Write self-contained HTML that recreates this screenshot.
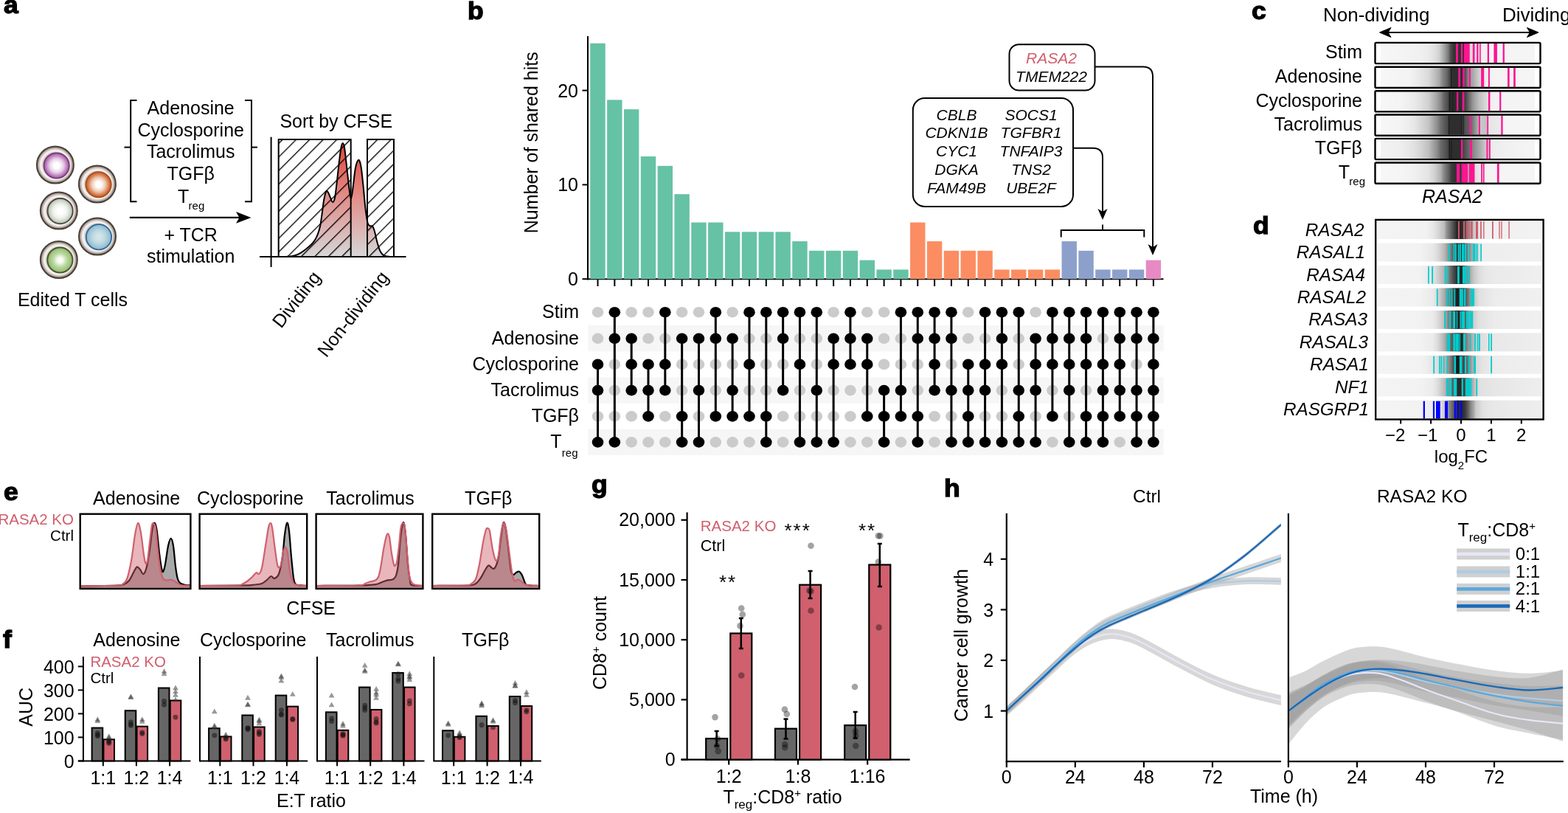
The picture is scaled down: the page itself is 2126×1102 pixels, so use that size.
<!DOCTYPE html>
<html><head><meta charset="utf-8"><title>Figure</title>
<style>
html,body{margin:0;padding:0;background:#fff;}
svg{display:block;}
text{font-family:'Liberation Sans', Arial, Helvetica, sans-serif;}
</style></head><body>
<svg width="2126" height="1102" viewBox="0 0 2126 1102" font-family="Liberation Sans, Arial, sans-serif" font-size="25">
<defs>
<radialGradient id="co0" cx="0.5" cy="0.5" r="0.5"><stop offset="0" stop-color="#ffffff"/><stop offset="0.68" stop-color="#cfc6c2"/><stop offset="0.73" stop-color="#eeeae8"/><stop offset="0.79" stop-color="#f6f4f3"/><stop offset="0.86" stop-color="#d8d0cc"/><stop offset="0.93" stop-color="#a89c96"/><stop offset="1" stop-color="#786c66"/></radialGradient>
<radialGradient id="ci0" cx="0.5" cy="0.5" r="0.5"><stop offset="0" stop-color="#ffffff"/><stop offset="0.22" stop-color="#ffffff"/><stop offset="0.55" stop-color="#e8d0e8"/><stop offset="0.85" stop-color="#b878b8"/><stop offset="1" stop-color="#9a529a"/></radialGradient>
<radialGradient id="co1" cx="0.5" cy="0.5" r="0.5"><stop offset="0" stop-color="#ffffff"/><stop offset="0.68" stop-color="#cfc6c2"/><stop offset="0.73" stop-color="#eeeae8"/><stop offset="0.79" stop-color="#f6f4f3"/><stop offset="0.86" stop-color="#d8d0cc"/><stop offset="0.93" stop-color="#a89c96"/><stop offset="1" stop-color="#786c66"/></radialGradient>
<radialGradient id="ci1" cx="0.5" cy="0.5" r="0.5"><stop offset="0" stop-color="#ffffff"/><stop offset="0.22" stop-color="#ffffff"/><stop offset="0.55" stop-color="#f0c8b0"/><stop offset="0.85" stop-color="#d07848"/><stop offset="1" stop-color="#c05a28"/></radialGradient>
<radialGradient id="co2" cx="0.5" cy="0.5" r="0.5"><stop offset="0" stop-color="#ffffff"/><stop offset="0.68" stop-color="#cfc6c2"/><stop offset="0.73" stop-color="#eeeae8"/><stop offset="0.79" stop-color="#f6f4f3"/><stop offset="0.86" stop-color="#d8d0cc"/><stop offset="0.93" stop-color="#a89c96"/><stop offset="1" stop-color="#786c66"/></radialGradient>
<radialGradient id="ci2" cx="0.5" cy="0.5" r="0.5"><stop offset="0" stop-color="#ffffff"/><stop offset="0.22" stop-color="#ffffff"/><stop offset="0.55" stop-color="#f0f2ee"/><stop offset="0.85" stop-color="#c8d2c4"/><stop offset="1" stop-color="#9aa898"/></radialGradient>
<radialGradient id="co3" cx="0.5" cy="0.5" r="0.5"><stop offset="0" stop-color="#ffffff"/><stop offset="0.68" stop-color="#cfc6c2"/><stop offset="0.73" stop-color="#eeeae8"/><stop offset="0.79" stop-color="#f6f4f3"/><stop offset="0.86" stop-color="#d8d0cc"/><stop offset="0.93" stop-color="#a89c96"/><stop offset="1" stop-color="#786c66"/></radialGradient>
<radialGradient id="ci3" cx="0.5" cy="0.5" r="0.5"><stop offset="0" stop-color="#d4e6ea"/><stop offset="0.22" stop-color="#d0e4e8"/><stop offset="0.55" stop-color="#b8d6e0"/><stop offset="0.85" stop-color="#98c2d0"/><stop offset="1" stop-color="#88b4c4"/></radialGradient>
<radialGradient id="co4" cx="0.5" cy="0.5" r="0.5"><stop offset="0" stop-color="#ffffff"/><stop offset="0.68" stop-color="#cfc6c2"/><stop offset="0.73" stop-color="#eeeae8"/><stop offset="0.79" stop-color="#f6f4f3"/><stop offset="0.86" stop-color="#d8d0cc"/><stop offset="0.93" stop-color="#a89c96"/><stop offset="1" stop-color="#786c66"/></radialGradient>
<radialGradient id="ci4" cx="0.5" cy="0.5" r="0.5"><stop offset="0" stop-color="#ffffff"/><stop offset="0.22" stop-color="#f4faee"/><stop offset="0.55" stop-color="#b8d8a0"/><stop offset="0.85" stop-color="#a2c282"/><stop offset="1" stop-color="#8a8a58"/></radialGradient>
<linearGradient id="ahist" x1="0" y1="0" x2="0" y2="1" gradientUnits="objectBoundingBox"><stop offset="0" stop-color="#e2443a"/><stop offset="0.45" stop-color="#e28a85"/><stop offset="1" stop-color="#d6d6d8"/></linearGradient>
<pattern id="hatch" patternUnits="userSpaceOnUse" width="13" height="13" patternTransform="rotate(45)"><line x1="1.7" y1="-1" x2="1.7" y2="14" stroke="#000" stroke-width="1.35"/></pattern>
<linearGradient id="cg0" gradientUnits="userSpaceOnUse" x1="1872" y1="0" x2="2081" y2="0"><stop offset="0" stop-color="#f7f7f7"/><stop offset="0.13" stop-color="#f4f4f4"/><stop offset="0.26" stop-color="#f0f0f0"/><stop offset="0.31" stop-color="#ebebeb"/><stop offset="0.35" stop-color="#e0e0e0"/><stop offset="0.38" stop-color="#d0d0d0"/><stop offset="0.4" stop-color="#b5b5b5"/><stop offset="0.42" stop-color="#999999"/><stop offset="0.44" stop-color="#777777"/><stop offset="0.45" stop-color="#555555"/><stop offset="0.47" stop-color="#3a3a3a"/><stop offset="0.48" stop-color="#333333"/><stop offset="0.54" stop-color="#333333"/><stop offset="0.56" stop-color="#808080"/><stop offset="0.58" stop-color="#d8d8d8"/><stop offset="0.62" stop-color="#e2e2e2"/><stop offset="0.65" stop-color="#eeeeee"/><stop offset="0.71" stop-color="#f4f4f4"/><stop offset="1" stop-color="#f5f5f5"/></linearGradient>
<linearGradient id="cg1" gradientUnits="userSpaceOnUse" x1="1872" y1="0" x2="2081" y2="0"><stop offset="0" stop-color="#f7f7f7"/><stop offset="0.13" stop-color="#f4f4f4"/><stop offset="0.18" stop-color="#f4f4f4"/><stop offset="0.22" stop-color="#eeeeee"/><stop offset="0.26" stop-color="#e6e6e6"/><stop offset="0.31" stop-color="#dadada"/><stop offset="0.35" stop-color="#c0c0c0"/><stop offset="0.38" stop-color="#aaaaaa"/><stop offset="0.4" stop-color="#888888"/><stop offset="0.43" stop-color="#666666"/><stop offset="0.45" stop-color="#444444"/><stop offset="0.46" stop-color="#2e2e2e"/><stop offset="0.54" stop-color="#2e2e2e"/><stop offset="0.55" stop-color="#555555"/><stop offset="0.57" stop-color="#888888"/><stop offset="0.58" stop-color="#999999"/><stop offset="0.65" stop-color="#d8d8d8"/><stop offset="0.67" stop-color="#eaeaea"/><stop offset="0.71" stop-color="#f3f3f3"/><stop offset="1" stop-color="#f5f5f5"/></linearGradient>
<linearGradient id="cg2" gradientUnits="userSpaceOnUse" x1="1872" y1="0" x2="2081" y2="0"><stop offset="0" stop-color="#f7f7f7"/><stop offset="0.13" stop-color="#f4f4f4"/><stop offset="0.22" stop-color="#eaeaea"/><stop offset="0.26" stop-color="#e0e0e0"/><stop offset="0.31" stop-color="#d0d0d0"/><stop offset="0.33" stop-color="#c0c0c0"/><stop offset="0.36" stop-color="#a8a8a8"/><stop offset="0.39" stop-color="#888888"/><stop offset="0.41" stop-color="#666666"/><stop offset="0.44" stop-color="#484848"/><stop offset="0.44" stop-color="#383838"/><stop offset="0.45" stop-color="#2a2a2a"/><stop offset="0.53" stop-color="#2e2e2e"/><stop offset="0.55" stop-color="#444444"/><stop offset="0.6" stop-color="#999999"/><stop offset="0.64" stop-color="#c0c0c0"/><stop offset="0.69" stop-color="#dcdcdc"/><stop offset="0.71" stop-color="#efefef"/><stop offset="0.78" stop-color="#f4f4f4"/><stop offset="1" stop-color="#f5f5f5"/></linearGradient>
<linearGradient id="cg3" gradientUnits="userSpaceOnUse" x1="1872" y1="0" x2="2081" y2="0"><stop offset="0" stop-color="#f7f7f7"/><stop offset="0.13" stop-color="#f3f3f3"/><stop offset="0.18" stop-color="#eeeeee"/><stop offset="0.22" stop-color="#e6e6e6"/><stop offset="0.26" stop-color="#d8d8d8"/><stop offset="0.31" stop-color="#c4c4c4"/><stop offset="0.34" stop-color="#a8a8a8"/><stop offset="0.37" stop-color="#8a8a8a"/><stop offset="0.39" stop-color="#6e6e6e"/><stop offset="0.42" stop-color="#555555"/><stop offset="0.44" stop-color="#444444"/><stop offset="0.44" stop-color="#2e2e2e"/><stop offset="0.52" stop-color="#2e2e2e"/><stop offset="0.53" stop-color="#404040"/><stop offset="0.54" stop-color="#404040"/><stop offset="0.55" stop-color="#555555"/><stop offset="0.57" stop-color="#5a5a5a"/><stop offset="0.59" stop-color="#6e6e6e"/><stop offset="0.63" stop-color="#aaaaaa"/><stop offset="0.65" stop-color="#c8c8c8"/><stop offset="0.69" stop-color="#c0c0c0"/><stop offset="0.7" stop-color="#e5e5e5"/><stop offset="0.78" stop-color="#ebebeb"/><stop offset="0.79" stop-color="#f5f5f5"/><stop offset="1" stop-color="#f5f5f5"/></linearGradient>
<linearGradient id="cg4" gradientUnits="userSpaceOnUse" x1="1872" y1="0" x2="2081" y2="0"><stop offset="0" stop-color="#f2f2f2"/><stop offset="0.13" stop-color="#eeeeee"/><stop offset="0.18" stop-color="#e8e8e8"/><stop offset="0.22" stop-color="#e0e0e0"/><stop offset="0.26" stop-color="#d4d4d4"/><stop offset="0.31" stop-color="#c0c0c0"/><stop offset="0.34" stop-color="#a5a5a5"/><stop offset="0.37" stop-color="#888888"/><stop offset="0.39" stop-color="#6a6a6a"/><stop offset="0.42" stop-color="#555555"/><stop offset="0.44" stop-color="#444444"/><stop offset="0.44" stop-color="#2e2e2e"/><stop offset="0.52" stop-color="#2e2e2e"/><stop offset="0.53" stop-color="#404040"/><stop offset="0.58" stop-color="#707070"/><stop offset="0.59" stop-color="#808080"/><stop offset="0.68" stop-color="#c8c8c8"/><stop offset="0.71" stop-color="#e6e6e6"/><stop offset="0.71" stop-color="#ebebeb"/><stop offset="0.81" stop-color="#f0f0f0"/><stop offset="1" stop-color="#f5f5f5"/></linearGradient>
<linearGradient id="cg5" gradientUnits="userSpaceOnUse" x1="1872" y1="0" x2="2081" y2="0"><stop offset="0" stop-color="#f7f7f7"/><stop offset="0.13" stop-color="#f5f5f5"/><stop offset="0.22" stop-color="#f0f0f0"/><stop offset="0.31" stop-color="#e4e4e4"/><stop offset="0.35" stop-color="#d0d0d0"/><stop offset="0.39" stop-color="#b0b0b0"/><stop offset="0.41" stop-color="#888888"/><stop offset="0.44" stop-color="#606060"/><stop offset="0.46" stop-color="#3c3c3c"/><stop offset="0.48" stop-color="#333333"/><stop offset="0.52" stop-color="#3a3a3a"/><stop offset="0.56" stop-color="#a0a0a0"/><stop offset="0.57" stop-color="#a8a8a8"/><stop offset="0.61" stop-color="#e0e0e0"/><stop offset="0.65" stop-color="#e8e8e8"/><stop offset="0.67" stop-color="#f2f2f2"/><stop offset="0.76" stop-color="#f3f3f3"/><stop offset="0.78" stop-color="#f5f5f5"/><stop offset="1" stop-color="#f5f5f5"/></linearGradient>
<linearGradient id="dg0" gradientUnits="userSpaceOnUse" x1="1867" y1="0" x2="2090" y2="0"><stop offset="0" stop-color="#f4f4f4"/><stop offset="0.3" stop-color="#f2f2f2"/><stop offset="0.34" stop-color="#e8e8e8"/><stop offset="0.37" stop-color="#d8d8d8"/><stop offset="0.41" stop-color="#bbbbbb"/><stop offset="0.42" stop-color="#999999"/><stop offset="0.44" stop-color="#777777"/><stop offset="0.46" stop-color="#555555"/><stop offset="0.48" stop-color="#333333"/><stop offset="0.49" stop-color="#1c1c1c"/><stop offset="0.49" stop-color="#2a2a2a"/><stop offset="0.52" stop-color="#2a2a2a"/><stop offset="0.54" stop-color="#555555"/><stop offset="0.56" stop-color="#999999"/><stop offset="0.59" stop-color="#c8c8c8"/><stop offset="0.62" stop-color="#e0e0e0"/><stop offset="0.66" stop-color="#f0f0f0"/><stop offset="1" stop-color="#f2f2f2"/></linearGradient>
<linearGradient id="dg1" gradientUnits="userSpaceOnUse" x1="1867" y1="0" x2="2090" y2="0"><stop offset="0" stop-color="#f4f4f4"/><stop offset="0.26" stop-color="#f2f2f2"/><stop offset="0.34" stop-color="#e8e8e8"/><stop offset="0.37" stop-color="#dadada"/><stop offset="0.41" stop-color="#b8b8b8"/><stop offset="0.43" stop-color="#999999"/><stop offset="0.45" stop-color="#777777"/><stop offset="0.47" stop-color="#555555"/><stop offset="0.48" stop-color="#2a2a2a"/><stop offset="0.49" stop-color="#1a1a1a"/><stop offset="0.49" stop-color="#2a2a2a"/><stop offset="0.53" stop-color="#2a2a2a"/><stop offset="0.54" stop-color="#666666"/><stop offset="0.56" stop-color="#888888"/><stop offset="0.58" stop-color="#aaaaaa"/><stop offset="0.62" stop-color="#dddddd"/><stop offset="0.64" stop-color="#eeeeee"/><stop offset="1" stop-color="#f0f0f0"/></linearGradient>
<linearGradient id="dg2" gradientUnits="userSpaceOnUse" x1="1867" y1="0" x2="2090" y2="0"><stop offset="0" stop-color="#f4f4f4"/><stop offset="0.26" stop-color="#f2f2f2"/><stop offset="0.34" stop-color="#e5e5e5"/><stop offset="0.37" stop-color="#d0d0d0"/><stop offset="0.41" stop-color="#b0b0b0"/><stop offset="0.43" stop-color="#888888"/><stop offset="0.45" stop-color="#666666"/><stop offset="0.47" stop-color="#444444"/><stop offset="0.49" stop-color="#2a2a2a"/><stop offset="0.52" stop-color="#2a2a2a"/><stop offset="0.54" stop-color="#777777"/><stop offset="0.57" stop-color="#b0b0b0"/><stop offset="0.59" stop-color="#c8c8c8"/><stop offset="0.62" stop-color="#dcdcdc"/><stop offset="0.66" stop-color="#e6e6e6"/><stop offset="0.71" stop-color="#eaeaea"/><stop offset="1" stop-color="#efefef"/></linearGradient>
<linearGradient id="dg3" gradientUnits="userSpaceOnUse" x1="1867" y1="0" x2="2090" y2="0"><stop offset="0" stop-color="#f4f4f4"/><stop offset="0.26" stop-color="#f2f2f2"/><stop offset="0.34" stop-color="#eaeaea"/><stop offset="0.37" stop-color="#d8d8d8"/><stop offset="0.41" stop-color="#aaaaaa"/><stop offset="0.45" stop-color="#666666"/><stop offset="0.47" stop-color="#333333"/><stop offset="0.49" stop-color="#1a1a1a"/><stop offset="0.49" stop-color="#1a1a1a"/><stop offset="0.5" stop-color="#2a2a2a"/><stop offset="0.53" stop-color="#333333"/><stop offset="0.54" stop-color="#555555"/><stop offset="0.57" stop-color="#999999"/><stop offset="0.59" stop-color="#c8c8c8"/><stop offset="0.62" stop-color="#e0e0e0"/><stop offset="0.68" stop-color="#e8e8e8"/><stop offset="0.71" stop-color="#ececec"/><stop offset="1" stop-color="#f0f0f0"/></linearGradient>
<linearGradient id="dg4" gradientUnits="userSpaceOnUse" x1="1867" y1="0" x2="2090" y2="0"><stop offset="0" stop-color="#f4f4f4"/><stop offset="0.26" stop-color="#f2f2f2"/><stop offset="0.34" stop-color="#ebebeb"/><stop offset="0.37" stop-color="#dcdcdc"/><stop offset="0.41" stop-color="#bbbbbb"/><stop offset="0.43" stop-color="#888888"/><stop offset="0.46" stop-color="#555555"/><stop offset="0.48" stop-color="#333333"/><stop offset="0.49" stop-color="#1c1c1c"/><stop offset="0.5" stop-color="#2a2a2a"/><stop offset="0.52" stop-color="#444444"/><stop offset="0.54" stop-color="#666666"/><stop offset="0.56" stop-color="#999999"/><stop offset="0.59" stop-color="#d0d0d0"/><stop offset="0.62" stop-color="#e0e0e0"/><stop offset="0.71" stop-color="#ebebeb"/><stop offset="1" stop-color="#f0f0f0"/></linearGradient>
<linearGradient id="dg5" gradientUnits="userSpaceOnUse" x1="1867" y1="0" x2="2090" y2="0"><stop offset="0" stop-color="#f4f4f4"/><stop offset="0.26" stop-color="#f2f2f2"/><stop offset="0.34" stop-color="#ebebeb"/><stop offset="0.37" stop-color="#dadada"/><stop offset="0.41" stop-color="#b0b0b0"/><stop offset="0.44" stop-color="#777777"/><stop offset="0.46" stop-color="#555555"/><stop offset="0.49" stop-color="#2a2a2a"/><stop offset="0.52" stop-color="#2a2a2a"/><stop offset="0.54" stop-color="#777777"/><stop offset="0.56" stop-color="#999999"/><stop offset="0.59" stop-color="#bbbbbb"/><stop offset="0.62" stop-color="#dcdcdc"/><stop offset="0.71" stop-color="#e8e8e8"/><stop offset="1" stop-color="#eeeeee"/></linearGradient>
<linearGradient id="dg6" gradientUnits="userSpaceOnUse" x1="1867" y1="0" x2="2090" y2="0"><stop offset="0" stop-color="#f4f4f4"/><stop offset="0.26" stop-color="#f2f2f2"/><stop offset="0.3" stop-color="#eeeeee"/><stop offset="0.36" stop-color="#e0e0e0"/><stop offset="0.41" stop-color="#c0c0c0"/><stop offset="0.43" stop-color="#999999"/><stop offset="0.45" stop-color="#777777"/><stop offset="0.47" stop-color="#444444"/><stop offset="0.48" stop-color="#1a1a1a"/><stop offset="0.5" stop-color="#1a1a1a"/><stop offset="0.51" stop-color="#2a2a2a"/><stop offset="0.52" stop-color="#444444"/><stop offset="0.54" stop-color="#555555"/><stop offset="0.57" stop-color="#999999"/><stop offset="0.59" stop-color="#bbbbbb"/><stop offset="0.6" stop-color="#d8d8d8"/><stop offset="0.64" stop-color="#e4e4e4"/><stop offset="0.71" stop-color="#ececec"/><stop offset="1" stop-color="#f0f0f0"/></linearGradient>
<linearGradient id="dg7" gradientUnits="userSpaceOnUse" x1="1867" y1="0" x2="2090" y2="0"><stop offset="0" stop-color="#f4f4f4"/><stop offset="0.26" stop-color="#f2f2f2"/><stop offset="0.34" stop-color="#ebebeb"/><stop offset="0.37" stop-color="#dcdcdc"/><stop offset="0.41" stop-color="#bbbbbb"/><stop offset="0.45" stop-color="#777777"/><stop offset="0.47" stop-color="#444444"/><stop offset="0.49" stop-color="#2a2a2a"/><stop offset="0.51" stop-color="#2a2a2a"/><stop offset="0.53" stop-color="#444444"/><stop offset="0.54" stop-color="#555555"/><stop offset="0.57" stop-color="#999999"/><stop offset="0.6" stop-color="#cccccc"/><stop offset="0.62" stop-color="#e0e0e0"/><stop offset="0.71" stop-color="#e6e6e6"/><stop offset="1" stop-color="#eeeeee"/></linearGradient>
<linearGradient id="dg8" gradientUnits="userSpaceOnUse" x1="1867" y1="0" x2="2090" y2="0"><stop offset="0" stop-color="#f4f4f4"/><stop offset="0.26" stop-color="#f2f2f2"/><stop offset="0.3" stop-color="#efefef"/><stop offset="0.36" stop-color="#e8e8e8"/><stop offset="0.39" stop-color="#dcdcdc"/><stop offset="0.41" stop-color="#c8c8c8"/><stop offset="0.43" stop-color="#999999"/><stop offset="0.45" stop-color="#777777"/><stop offset="0.47" stop-color="#555555"/><stop offset="0.49" stop-color="#2a2a2a"/><stop offset="0.51" stop-color="#2a2a2a"/><stop offset="0.53" stop-color="#333333"/><stop offset="0.55" stop-color="#555555"/><stop offset="0.57" stop-color="#888888"/><stop offset="0.59" stop-color="#aaaaaa"/><stop offset="0.6" stop-color="#c8c8c8"/><stop offset="0.64" stop-color="#e0e0e0"/><stop offset="0.68" stop-color="#e6e6e6"/><stop offset="0.71" stop-color="#e8e8e8"/><stop offset="1" stop-color="#eeeeee"/></linearGradient>
</defs>
<rect x="0" y="0" width="2126" height="1102" fill="#fff"/>
<text transform="translate(5 18) scale(1.06 1)" x="0" y="0" font-size="33.5" font-weight="bold" stroke="#000" stroke-width="1.3">a</text>
<text transform="translate(634 26.4) scale(1.06 1)" x="0" y="0" font-size="33.5" font-weight="bold" stroke="#000" stroke-width="1.3">b</text>
<text transform="translate(1697 26.3) scale(1.06 1)" x="0" y="0" font-size="33.5" font-weight="bold" stroke="#000" stroke-width="1.3">c</text>
<text transform="translate(1699 316.9) scale(1.06 1)" x="0" y="0" font-size="33.5" font-weight="bold" stroke="#000" stroke-width="1.3">d</text>
<text transform="translate(5 677.5) scale(1.06 1)" x="0" y="0" font-size="33.5" font-weight="bold" stroke="#000" stroke-width="1.3">e</text>
<text transform="translate(4 877.5) scale(1.06 1)" x="0" y="0" font-size="33.5" font-weight="bold" stroke="#000" stroke-width="1.3">f</text>
<text transform="translate(802 667.5) scale(1.06 1)" x="0" y="0" font-size="33.5" font-weight="bold" stroke="#000" stroke-width="1.3">g</text>
<text transform="translate(1280 673.3) scale(1.06 1)" x="0" y="0" font-size="33.5" font-weight="bold" stroke="#000" stroke-width="1.3">h</text>
<circle cx="74.9" cy="223.6" r="25" fill="url(#co0)" stroke="#4a4038" stroke-width="2"/>
<circle cx="76.7" cy="224.5" r="17.2" fill="url(#ci0)" stroke="#7a3a7a" stroke-width="1.7"/>
<circle cx="131.9" cy="249.5" r="25" fill="url(#co1)" stroke="#4a4038" stroke-width="2"/>
<circle cx="133.6" cy="250.2" r="17.2" fill="url(#ci1)" stroke="#b04a14" stroke-width="1.7"/>
<circle cx="79.8" cy="285.6" r="25" fill="url(#co2)" stroke="#4a4038" stroke-width="2"/>
<circle cx="81.6" cy="286.1" r="17.2" fill="url(#ci2)" stroke="#4a4038" stroke-width="1.7"/>
<circle cx="132" cy="320.5" r="25" fill="url(#co3)" stroke="#4a4038" stroke-width="2"/>
<circle cx="134" cy="321.3" r="17.2" fill="url(#ci3)" stroke="#2a66a0" stroke-width="1.7"/>
<circle cx="79.8" cy="352" r="25" fill="url(#co4)" stroke="#4a4038" stroke-width="2"/>
<circle cx="81.4" cy="352.5" r="17.2" fill="url(#ci4)" stroke="#3a5a20" stroke-width="1.7"/>
<text x="98.5" y="415" text-anchor="middle">Edited T cells</text>
<path d="M185.5,136 H177.2 V273.3 H185.5" fill="none" stroke="#000" stroke-width="2"/>
<line x1="168.5" y1="199.6" x2="177.2" y2="199.6" stroke="#000" stroke-width="2"/>
<path d="M332,136 H341 V273.3 H332" fill="none" stroke="#000" stroke-width="2"/>
<line x1="341" y1="199.6" x2="349" y2="199.6" stroke="#000" stroke-width="2"/>
<text x="258.7" y="155.2" text-anchor="middle">Adenosine</text>
<text x="258.7" y="185.2" text-anchor="middle">Cyclosporine</text>
<text x="258.7" y="214.4" text-anchor="middle">Tacrolimus</text>
<text x="258.7" y="243.8" text-anchor="middle">TGFβ</text>
<text x="248.6" y="274.5" text-anchor="middle">T</text>
<text x="255.6" y="283.5" font-size="15">reg</text>
<line x1="175.8" y1="294.9" x2="330" y2="294.9" stroke="#000" stroke-width="2.2"/>
<path d="M340.5,294.9 L320,287 L324.5,294.9 L320,302.8 Z" fill="#000"/>
<text x="258.7" y="326.7" text-anchor="middle">+ TCR</text>
<text x="258.7" y="356.2" text-anchor="middle">stimulation</text>
<text x="455.8" y="172.7" text-anchor="middle">Sort by CFSE</text>
<path d="M378,348 C380,347.97 386.33,348.1 390,347.8 C393.67,347.5 397,347.07 400,346.2 C403,345.33 405.33,344.17 408,342.6 C410.67,341.03 413.5,338.82 416,336.8 C418.5,334.78 421.08,332.55 423,330.5 C424.92,328.45 426.17,326.75 427.5,324.5 C428.83,322.25 429.88,320.08 431,317 C432.12,313.92 433.27,310.5 434.2,306 C435.13,301.5 435.77,295.83 436.6,290 C437.43,284.17 438.25,276.07 439.2,271 C440.15,265.93 441.33,261.27 442.3,259.6 C443.27,257.93 444.05,259.6 445,261 C445.95,262.4 447,265.83 448,268 C449,270.17 450,274 451,274 C452,274 453,272.83 454,268 C455,263.17 456,253.33 457,245 C458,236.67 459.08,225.5 460,218 C460.92,210.5 461.73,204 462.5,200 C463.27,196 463.85,194 464.6,194 C465.35,194 466.1,194.83 467,200 C467.9,205.17 468.92,215.67 470,225 C471.08,234.33 472.5,248.67 473.5,256 C474.5,263.33 475.17,269.17 476,269 C476.83,268.83 477.52,261.83 478.5,255 C479.48,248.17 480.62,234.37 481.9,228 C483.18,221.63 484.93,217.13 486.2,216.8 C487.47,216.47 488.45,220.13 489.5,226 C490.55,231.87 491.5,242.5 492.5,252 C493.5,261.5 494.5,274.67 495.5,283 C496.5,291.33 497.5,298.12 498.5,302 C499.5,305.88 500.42,305.53 501.5,306.3 C502.58,307.07 503.92,305.32 505,306.6 C506.08,307.88 506.95,310.43 508,314 C509.05,317.57 510.05,323.58 511.3,328 C512.55,332.42 513.97,337.43 515.5,340.5 C517.03,343.57 518.25,345.15 520.5,346.4 C522.75,347.65 527.58,347.73 529,348 L529,348 L378,348 Z" fill="url(#ahist)"/>
<rect x="377.7" y="189" width="98" height="159" fill="url(#hatch)" stroke="#000" stroke-width="2"/>
<rect x="498" y="189" width="36" height="159" fill="url(#hatch)" stroke="#000" stroke-width="2"/>
<path d="M378,348 C380,347.97 386.33,348.1 390,347.8 C393.67,347.5 397,347.07 400,346.2 C403,345.33 405.33,344.17 408,342.6 C410.67,341.03 413.5,338.82 416,336.8 C418.5,334.78 421.08,332.55 423,330.5 C424.92,328.45 426.17,326.75 427.5,324.5 C428.83,322.25 429.88,320.08 431,317 C432.12,313.92 433.27,310.5 434.2,306 C435.13,301.5 435.77,295.83 436.6,290 C437.43,284.17 438.25,276.07 439.2,271 C440.15,265.93 441.33,261.27 442.3,259.6 C443.27,257.93 444.05,259.6 445,261 C445.95,262.4 447,265.83 448,268 C449,270.17 450,274 451,274 C452,274 453,272.83 454,268 C455,263.17 456,253.33 457,245 C458,236.67 459.08,225.5 460,218 C460.92,210.5 461.73,204 462.5,200 C463.27,196 463.85,194 464.6,194 C465.35,194 466.1,194.83 467,200 C467.9,205.17 468.92,215.67 470,225 C471.08,234.33 472.5,248.67 473.5,256 C474.5,263.33 475.17,269.17 476,269 C476.83,268.83 477.52,261.83 478.5,255 C479.48,248.17 480.62,234.37 481.9,228 C483.18,221.63 484.93,217.13 486.2,216.8 C487.47,216.47 488.45,220.13 489.5,226 C490.55,231.87 491.5,242.5 492.5,252 C493.5,261.5 494.5,274.67 495.5,283 C496.5,291.33 497.5,298.12 498.5,302 C499.5,305.88 500.42,305.53 501.5,306.3 C502.58,307.07 503.92,305.32 505,306.6 C506.08,307.88 506.95,310.43 508,314 C509.05,317.57 510.05,323.58 511.3,328 C512.55,332.42 513.97,337.43 515.5,340.5 C517.03,343.57 518.25,345.15 520.5,346.4 C522.75,347.65 527.58,347.73 529,348" fill="none" stroke="#000" stroke-width="2"/>
<line x1="367.6" y1="185.7" x2="367.6" y2="362" stroke="#000" stroke-width="2"/>
<line x1="352" y1="348" x2="550.5" y2="348" stroke="#000" stroke-width="2"/>
<text x="436" y="376" text-anchor="end" transform="rotate(-52 436 376)">Dividing</text>
<text x="528" y="376" text-anchor="end" transform="rotate(-52 528 376)">Non-dividing</text>
<line x1="797" y1="49" x2="797" y2="379.2" stroke="#000" stroke-width="2"/>
<line x1="796" y1="378.2" x2="1577.5" y2="378.2" stroke="#000" stroke-width="2"/>
<line x1="789.5" y1="378.2" x2="797" y2="378.2" stroke="#000" stroke-width="2"/>
<text x="784" y="387.2" text-anchor="end">0</text>
<line x1="789.5" y1="250.4" x2="797" y2="250.4" stroke="#000" stroke-width="2"/>
<text x="784" y="259.4" text-anchor="end">10</text>
<line x1="789.5" y1="122.6" x2="797" y2="122.6" stroke="#000" stroke-width="2"/>
<text x="784" y="131.6" text-anchor="end">20</text>
<text x="0" y="0" text-anchor="middle" transform="translate(729 193.3) rotate(-90)">Number of shared hits</text>
<rect x="800.3" y="58.7" width="20.4" height="319.5" fill="#66c2a5"/>
<line x1="810.5" y1="379" x2="810.5" y2="388" stroke="#000" stroke-width="2"/>
<rect x="823.13" y="135.38" width="20.4" height="242.82" fill="#66c2a5"/>
<line x1="833.33" y1="379" x2="833.33" y2="388" stroke="#000" stroke-width="2"/>
<rect x="845.96" y="148.16" width="20.4" height="230.04" fill="#66c2a5"/>
<line x1="856.16" y1="379" x2="856.16" y2="388" stroke="#000" stroke-width="2"/>
<rect x="868.79" y="212.06" width="20.4" height="166.14" fill="#66c2a5"/>
<line x1="878.99" y1="379" x2="878.99" y2="388" stroke="#000" stroke-width="2"/>
<rect x="891.62" y="224.84" width="20.4" height="153.36" fill="#66c2a5"/>
<line x1="901.82" y1="379" x2="901.82" y2="388" stroke="#000" stroke-width="2"/>
<rect x="914.45" y="263.18" width="20.4" height="115.02" fill="#66c2a5"/>
<line x1="924.65" y1="379" x2="924.65" y2="388" stroke="#000" stroke-width="2"/>
<rect x="937.28" y="301.52" width="20.4" height="76.68" fill="#66c2a5"/>
<line x1="947.48" y1="379" x2="947.48" y2="388" stroke="#000" stroke-width="2"/>
<rect x="960.11" y="301.52" width="20.4" height="76.68" fill="#66c2a5"/>
<line x1="970.31" y1="379" x2="970.31" y2="388" stroke="#000" stroke-width="2"/>
<rect x="982.94" y="314.3" width="20.4" height="63.9" fill="#66c2a5"/>
<line x1="993.14" y1="379" x2="993.14" y2="388" stroke="#000" stroke-width="2"/>
<rect x="1005.77" y="314.3" width="20.4" height="63.9" fill="#66c2a5"/>
<line x1="1015.97" y1="379" x2="1015.97" y2="388" stroke="#000" stroke-width="2"/>
<rect x="1028.6" y="314.3" width="20.4" height="63.9" fill="#66c2a5"/>
<line x1="1038.8" y1="379" x2="1038.8" y2="388" stroke="#000" stroke-width="2"/>
<rect x="1051.43" y="314.3" width="20.4" height="63.9" fill="#66c2a5"/>
<line x1="1061.63" y1="379" x2="1061.63" y2="388" stroke="#000" stroke-width="2"/>
<rect x="1074.26" y="327.08" width="20.4" height="51.12" fill="#66c2a5"/>
<line x1="1084.46" y1="379" x2="1084.46" y2="388" stroke="#000" stroke-width="2"/>
<rect x="1097.09" y="339.86" width="20.4" height="38.34" fill="#66c2a5"/>
<line x1="1107.29" y1="379" x2="1107.29" y2="388" stroke="#000" stroke-width="2"/>
<rect x="1119.92" y="339.86" width="20.4" height="38.34" fill="#66c2a5"/>
<line x1="1130.12" y1="379" x2="1130.12" y2="388" stroke="#000" stroke-width="2"/>
<rect x="1142.75" y="339.86" width="20.4" height="38.34" fill="#66c2a5"/>
<line x1="1152.95" y1="379" x2="1152.95" y2="388" stroke="#000" stroke-width="2"/>
<rect x="1165.58" y="352.64" width="20.4" height="25.56" fill="#66c2a5"/>
<line x1="1175.78" y1="379" x2="1175.78" y2="388" stroke="#000" stroke-width="2"/>
<rect x="1188.41" y="365.42" width="20.4" height="12.78" fill="#66c2a5"/>
<line x1="1198.61" y1="379" x2="1198.61" y2="388" stroke="#000" stroke-width="2"/>
<rect x="1211.24" y="365.42" width="20.4" height="12.78" fill="#66c2a5"/>
<line x1="1221.44" y1="379" x2="1221.44" y2="388" stroke="#000" stroke-width="2"/>
<rect x="1234.07" y="301.52" width="20.4" height="76.68" fill="#fc8d62"/>
<line x1="1244.27" y1="379" x2="1244.27" y2="388" stroke="#000" stroke-width="2"/>
<rect x="1256.9" y="327.08" width="20.4" height="51.12" fill="#fc8d62"/>
<line x1="1267.1" y1="379" x2="1267.1" y2="388" stroke="#000" stroke-width="2"/>
<rect x="1279.73" y="339.86" width="20.4" height="38.34" fill="#fc8d62"/>
<line x1="1289.93" y1="379" x2="1289.93" y2="388" stroke="#000" stroke-width="2"/>
<rect x="1302.56" y="339.86" width="20.4" height="38.34" fill="#fc8d62"/>
<line x1="1312.76" y1="379" x2="1312.76" y2="388" stroke="#000" stroke-width="2"/>
<rect x="1325.39" y="339.86" width="20.4" height="38.34" fill="#fc8d62"/>
<line x1="1335.59" y1="379" x2="1335.59" y2="388" stroke="#000" stroke-width="2"/>
<rect x="1348.22" y="365.42" width="20.4" height="12.78" fill="#fc8d62"/>
<line x1="1358.42" y1="379" x2="1358.42" y2="388" stroke="#000" stroke-width="2"/>
<rect x="1371.05" y="365.42" width="20.4" height="12.78" fill="#fc8d62"/>
<line x1="1381.25" y1="379" x2="1381.25" y2="388" stroke="#000" stroke-width="2"/>
<rect x="1393.88" y="365.42" width="20.4" height="12.78" fill="#fc8d62"/>
<line x1="1404.08" y1="379" x2="1404.08" y2="388" stroke="#000" stroke-width="2"/>
<rect x="1416.71" y="365.42" width="20.4" height="12.78" fill="#fc8d62"/>
<line x1="1426.91" y1="379" x2="1426.91" y2="388" stroke="#000" stroke-width="2"/>
<rect x="1439.54" y="327.08" width="20.4" height="51.12" fill="#8da0cb"/>
<line x1="1449.74" y1="379" x2="1449.74" y2="388" stroke="#000" stroke-width="2"/>
<rect x="1462.37" y="339.86" width="20.4" height="38.34" fill="#8da0cb"/>
<line x1="1472.57" y1="379" x2="1472.57" y2="388" stroke="#000" stroke-width="2"/>
<rect x="1485.2" y="365.42" width="20.4" height="12.78" fill="#8da0cb"/>
<line x1="1495.4" y1="379" x2="1495.4" y2="388" stroke="#000" stroke-width="2"/>
<rect x="1508.03" y="365.42" width="20.4" height="12.78" fill="#8da0cb"/>
<line x1="1518.23" y1="379" x2="1518.23" y2="388" stroke="#000" stroke-width="2"/>
<rect x="1530.86" y="365.42" width="20.4" height="12.78" fill="#8da0cb"/>
<line x1="1541.06" y1="379" x2="1541.06" y2="388" stroke="#000" stroke-width="2"/>
<rect x="1553.69" y="352.64" width="20.4" height="25.56" fill="#e78ac3"/>
<line x1="1563.89" y1="379" x2="1563.89" y2="388" stroke="#000" stroke-width="2"/>
<rect x="797.3" y="441.2" width="780.2" height="35.2" fill="#f6f6f6"/>
<rect x="797.3" y="511.5" width="780.2" height="35.2" fill="#f6f6f6"/>
<rect x="797.3" y="581.8" width="780.2" height="35.2" fill="#f6f6f6"/>
<ellipse cx="810.5" cy="423.2" rx="7.8" ry="7.3" fill="#cbcbcb"/>
<ellipse cx="810.5" cy="458.8" rx="7.8" ry="7.3" fill="#cbcbcb"/>
<ellipse cx="810.5" cy="564.4" rx="7.8" ry="7.3" fill="#cbcbcb"/>
<line x1="810.5" y1="493.9" x2="810.5" y2="599.4" stroke="#000" stroke-width="3"/>
<ellipse cx="810.5" cy="493.9" rx="7.8" ry="7.3" fill="#000"/>
<ellipse cx="810.5" cy="529.1" rx="7.8" ry="7.3" fill="#000"/>
<ellipse cx="810.5" cy="599.4" rx="7.8" ry="7.3" fill="#000"/>
<ellipse cx="833.33" cy="493.9" rx="7.8" ry="7.3" fill="#cbcbcb"/>
<ellipse cx="833.33" cy="529.1" rx="7.8" ry="7.3" fill="#cbcbcb"/>
<ellipse cx="833.33" cy="564.4" rx="7.8" ry="7.3" fill="#cbcbcb"/>
<line x1="833.33" y1="423.2" x2="833.33" y2="599.4" stroke="#000" stroke-width="3"/>
<ellipse cx="833.33" cy="423.2" rx="7.8" ry="7.3" fill="#000"/>
<ellipse cx="833.33" cy="458.8" rx="7.8" ry="7.3" fill="#000"/>
<ellipse cx="833.33" cy="599.4" rx="7.8" ry="7.3" fill="#000"/>
<ellipse cx="856.16" cy="423.2" rx="7.8" ry="7.3" fill="#cbcbcb"/>
<ellipse cx="856.16" cy="564.4" rx="7.8" ry="7.3" fill="#cbcbcb"/>
<ellipse cx="856.16" cy="599.4" rx="7.8" ry="7.3" fill="#cbcbcb"/>
<line x1="856.16" y1="458.8" x2="856.16" y2="529.1" stroke="#000" stroke-width="3"/>
<ellipse cx="856.16" cy="458.8" rx="7.8" ry="7.3" fill="#000"/>
<ellipse cx="856.16" cy="493.9" rx="7.8" ry="7.3" fill="#000"/>
<ellipse cx="856.16" cy="529.1" rx="7.8" ry="7.3" fill="#000"/>
<ellipse cx="878.99" cy="423.2" rx="7.8" ry="7.3" fill="#cbcbcb"/>
<ellipse cx="878.99" cy="458.8" rx="7.8" ry="7.3" fill="#cbcbcb"/>
<ellipse cx="878.99" cy="599.4" rx="7.8" ry="7.3" fill="#cbcbcb"/>
<line x1="878.99" y1="493.9" x2="878.99" y2="564.4" stroke="#000" stroke-width="3"/>
<ellipse cx="878.99" cy="493.9" rx="7.8" ry="7.3" fill="#000"/>
<ellipse cx="878.99" cy="529.1" rx="7.8" ry="7.3" fill="#000"/>
<ellipse cx="878.99" cy="564.4" rx="7.8" ry="7.3" fill="#000"/>
<ellipse cx="901.82" cy="458.8" rx="7.8" ry="7.3" fill="#cbcbcb"/>
<ellipse cx="901.82" cy="564.4" rx="7.8" ry="7.3" fill="#cbcbcb"/>
<ellipse cx="901.82" cy="599.4" rx="7.8" ry="7.3" fill="#cbcbcb"/>
<line x1="901.82" y1="423.2" x2="901.82" y2="529.1" stroke="#000" stroke-width="3"/>
<ellipse cx="901.82" cy="423.2" rx="7.8" ry="7.3" fill="#000"/>
<ellipse cx="901.82" cy="493.9" rx="7.8" ry="7.3" fill="#000"/>
<ellipse cx="901.82" cy="529.1" rx="7.8" ry="7.3" fill="#000"/>
<ellipse cx="924.65" cy="423.2" rx="7.8" ry="7.3" fill="#cbcbcb"/>
<ellipse cx="924.65" cy="493.9" rx="7.8" ry="7.3" fill="#cbcbcb"/>
<ellipse cx="924.65" cy="529.1" rx="7.8" ry="7.3" fill="#cbcbcb"/>
<line x1="924.65" y1="458.8" x2="924.65" y2="599.4" stroke="#000" stroke-width="3"/>
<ellipse cx="924.65" cy="458.8" rx="7.8" ry="7.3" fill="#000"/>
<ellipse cx="924.65" cy="564.4" rx="7.8" ry="7.3" fill="#000"/>
<ellipse cx="924.65" cy="599.4" rx="7.8" ry="7.3" fill="#000"/>
<ellipse cx="947.48" cy="423.2" rx="7.8" ry="7.3" fill="#cbcbcb"/>
<ellipse cx="947.48" cy="493.9" rx="7.8" ry="7.3" fill="#cbcbcb"/>
<ellipse cx="947.48" cy="564.4" rx="7.8" ry="7.3" fill="#cbcbcb"/>
<line x1="947.48" y1="458.8" x2="947.48" y2="599.4" stroke="#000" stroke-width="3"/>
<ellipse cx="947.48" cy="458.8" rx="7.8" ry="7.3" fill="#000"/>
<ellipse cx="947.48" cy="529.1" rx="7.8" ry="7.3" fill="#000"/>
<ellipse cx="947.48" cy="599.4" rx="7.8" ry="7.3" fill="#000"/>
<ellipse cx="970.31" cy="493.9" rx="7.8" ry="7.3" fill="#cbcbcb"/>
<ellipse cx="970.31" cy="529.1" rx="7.8" ry="7.3" fill="#cbcbcb"/>
<ellipse cx="970.31" cy="599.4" rx="7.8" ry="7.3" fill="#cbcbcb"/>
<line x1="970.31" y1="423.2" x2="970.31" y2="564.4" stroke="#000" stroke-width="3"/>
<ellipse cx="970.31" cy="423.2" rx="7.8" ry="7.3" fill="#000"/>
<ellipse cx="970.31" cy="458.8" rx="7.8" ry="7.3" fill="#000"/>
<ellipse cx="970.31" cy="564.4" rx="7.8" ry="7.3" fill="#000"/>
<ellipse cx="993.14" cy="423.2" rx="7.8" ry="7.3" fill="#cbcbcb"/>
<ellipse cx="993.14" cy="493.9" rx="7.8" ry="7.3" fill="#cbcbcb"/>
<ellipse cx="993.14" cy="599.4" rx="7.8" ry="7.3" fill="#cbcbcb"/>
<line x1="993.14" y1="458.8" x2="993.14" y2="564.4" stroke="#000" stroke-width="3"/>
<ellipse cx="993.14" cy="458.8" rx="7.8" ry="7.3" fill="#000"/>
<ellipse cx="993.14" cy="529.1" rx="7.8" ry="7.3" fill="#000"/>
<ellipse cx="993.14" cy="564.4" rx="7.8" ry="7.3" fill="#000"/>
<ellipse cx="1015.97" cy="458.8" rx="7.8" ry="7.3" fill="#cbcbcb"/>
<ellipse cx="1015.97" cy="529.1" rx="7.8" ry="7.3" fill="#cbcbcb"/>
<ellipse cx="1015.97" cy="599.4" rx="7.8" ry="7.3" fill="#cbcbcb"/>
<line x1="1015.97" y1="423.2" x2="1015.97" y2="564.4" stroke="#000" stroke-width="3"/>
<ellipse cx="1015.97" cy="423.2" rx="7.8" ry="7.3" fill="#000"/>
<ellipse cx="1015.97" cy="493.9" rx="7.8" ry="7.3" fill="#000"/>
<ellipse cx="1015.97" cy="564.4" rx="7.8" ry="7.3" fill="#000"/>
<ellipse cx="1038.8" cy="458.8" rx="7.8" ry="7.3" fill="#cbcbcb"/>
<ellipse cx="1038.8" cy="493.9" rx="7.8" ry="7.3" fill="#cbcbcb"/>
<ellipse cx="1038.8" cy="529.1" rx="7.8" ry="7.3" fill="#cbcbcb"/>
<line x1="1038.8" y1="423.2" x2="1038.8" y2="599.4" stroke="#000" stroke-width="3"/>
<ellipse cx="1038.8" cy="423.2" rx="7.8" ry="7.3" fill="#000"/>
<ellipse cx="1038.8" cy="564.4" rx="7.8" ry="7.3" fill="#000"/>
<ellipse cx="1038.8" cy="599.4" rx="7.8" ry="7.3" fill="#000"/>
<ellipse cx="1061.63" cy="493.9" rx="7.8" ry="7.3" fill="#cbcbcb"/>
<ellipse cx="1061.63" cy="564.4" rx="7.8" ry="7.3" fill="#cbcbcb"/>
<ellipse cx="1061.63" cy="599.4" rx="7.8" ry="7.3" fill="#cbcbcb"/>
<line x1="1061.63" y1="423.2" x2="1061.63" y2="529.1" stroke="#000" stroke-width="3"/>
<ellipse cx="1061.63" cy="423.2" rx="7.8" ry="7.3" fill="#000"/>
<ellipse cx="1061.63" cy="458.8" rx="7.8" ry="7.3" fill="#000"/>
<ellipse cx="1061.63" cy="529.1" rx="7.8" ry="7.3" fill="#000"/>
<ellipse cx="1084.46" cy="458.8" rx="7.8" ry="7.3" fill="#cbcbcb"/>
<ellipse cx="1084.46" cy="529.1" rx="7.8" ry="7.3" fill="#cbcbcb"/>
<ellipse cx="1084.46" cy="564.4" rx="7.8" ry="7.3" fill="#cbcbcb"/>
<line x1="1084.46" y1="423.2" x2="1084.46" y2="599.4" stroke="#000" stroke-width="3"/>
<ellipse cx="1084.46" cy="423.2" rx="7.8" ry="7.3" fill="#000"/>
<ellipse cx="1084.46" cy="493.9" rx="7.8" ry="7.3" fill="#000"/>
<ellipse cx="1084.46" cy="599.4" rx="7.8" ry="7.3" fill="#000"/>
<ellipse cx="1107.29" cy="458.8" rx="7.8" ry="7.3" fill="#cbcbcb"/>
<ellipse cx="1107.29" cy="493.9" rx="7.8" ry="7.3" fill="#cbcbcb"/>
<ellipse cx="1107.29" cy="564.4" rx="7.8" ry="7.3" fill="#cbcbcb"/>
<line x1="1107.29" y1="423.2" x2="1107.29" y2="599.4" stroke="#000" stroke-width="3"/>
<ellipse cx="1107.29" cy="423.2" rx="7.8" ry="7.3" fill="#000"/>
<ellipse cx="1107.29" cy="529.1" rx="7.8" ry="7.3" fill="#000"/>
<ellipse cx="1107.29" cy="599.4" rx="7.8" ry="7.3" fill="#000"/>
<ellipse cx="1130.12" cy="423.2" rx="7.8" ry="7.3" fill="#cbcbcb"/>
<ellipse cx="1130.12" cy="529.1" rx="7.8" ry="7.3" fill="#cbcbcb"/>
<ellipse cx="1130.12" cy="564.4" rx="7.8" ry="7.3" fill="#cbcbcb"/>
<line x1="1130.12" y1="458.8" x2="1130.12" y2="599.4" stroke="#000" stroke-width="3"/>
<ellipse cx="1130.12" cy="458.8" rx="7.8" ry="7.3" fill="#000"/>
<ellipse cx="1130.12" cy="493.9" rx="7.8" ry="7.3" fill="#000"/>
<ellipse cx="1130.12" cy="599.4" rx="7.8" ry="7.3" fill="#000"/>
<ellipse cx="1152.95" cy="529.1" rx="7.8" ry="7.3" fill="#cbcbcb"/>
<ellipse cx="1152.95" cy="564.4" rx="7.8" ry="7.3" fill="#cbcbcb"/>
<ellipse cx="1152.95" cy="599.4" rx="7.8" ry="7.3" fill="#cbcbcb"/>
<line x1="1152.95" y1="423.2" x2="1152.95" y2="493.9" stroke="#000" stroke-width="3"/>
<ellipse cx="1152.95" cy="423.2" rx="7.8" ry="7.3" fill="#000"/>
<ellipse cx="1152.95" cy="458.8" rx="7.8" ry="7.3" fill="#000"/>
<ellipse cx="1152.95" cy="493.9" rx="7.8" ry="7.3" fill="#000"/>
<ellipse cx="1175.78" cy="423.2" rx="7.8" ry="7.3" fill="#cbcbcb"/>
<ellipse cx="1175.78" cy="529.1" rx="7.8" ry="7.3" fill="#cbcbcb"/>
<ellipse cx="1175.78" cy="599.4" rx="7.8" ry="7.3" fill="#cbcbcb"/>
<line x1="1175.78" y1="458.8" x2="1175.78" y2="564.4" stroke="#000" stroke-width="3"/>
<ellipse cx="1175.78" cy="458.8" rx="7.8" ry="7.3" fill="#000"/>
<ellipse cx="1175.78" cy="493.9" rx="7.8" ry="7.3" fill="#000"/>
<ellipse cx="1175.78" cy="564.4" rx="7.8" ry="7.3" fill="#000"/>
<ellipse cx="1198.61" cy="423.2" rx="7.8" ry="7.3" fill="#cbcbcb"/>
<ellipse cx="1198.61" cy="458.8" rx="7.8" ry="7.3" fill="#cbcbcb"/>
<ellipse cx="1198.61" cy="493.9" rx="7.8" ry="7.3" fill="#cbcbcb"/>
<line x1="1198.61" y1="529.1" x2="1198.61" y2="599.4" stroke="#000" stroke-width="3"/>
<ellipse cx="1198.61" cy="529.1" rx="7.8" ry="7.3" fill="#000"/>
<ellipse cx="1198.61" cy="564.4" rx="7.8" ry="7.3" fill="#000"/>
<ellipse cx="1198.61" cy="599.4" rx="7.8" ry="7.3" fill="#000"/>
<ellipse cx="1221.44" cy="458.8" rx="7.8" ry="7.3" fill="#cbcbcb"/>
<ellipse cx="1221.44" cy="493.9" rx="7.8" ry="7.3" fill="#cbcbcb"/>
<ellipse cx="1221.44" cy="599.4" rx="7.8" ry="7.3" fill="#cbcbcb"/>
<line x1="1221.44" y1="423.2" x2="1221.44" y2="564.4" stroke="#000" stroke-width="3"/>
<ellipse cx="1221.44" cy="423.2" rx="7.8" ry="7.3" fill="#000"/>
<ellipse cx="1221.44" cy="529.1" rx="7.8" ry="7.3" fill="#000"/>
<ellipse cx="1221.44" cy="564.4" rx="7.8" ry="7.3" fill="#000"/>
<ellipse cx="1244.27" cy="493.9" rx="7.8" ry="7.3" fill="#cbcbcb"/>
<ellipse cx="1244.27" cy="529.1" rx="7.8" ry="7.3" fill="#cbcbcb"/>
<line x1="1244.27" y1="423.2" x2="1244.27" y2="599.4" stroke="#000" stroke-width="3"/>
<ellipse cx="1244.27" cy="423.2" rx="7.8" ry="7.3" fill="#000"/>
<ellipse cx="1244.27" cy="458.8" rx="7.8" ry="7.3" fill="#000"/>
<ellipse cx="1244.27" cy="564.4" rx="7.8" ry="7.3" fill="#000"/>
<ellipse cx="1244.27" cy="599.4" rx="7.8" ry="7.3" fill="#000"/>
<ellipse cx="1267.1" cy="564.4" rx="7.8" ry="7.3" fill="#cbcbcb"/>
<ellipse cx="1267.1" cy="599.4" rx="7.8" ry="7.3" fill="#cbcbcb"/>
<line x1="1267.1" y1="423.2" x2="1267.1" y2="529.1" stroke="#000" stroke-width="3"/>
<ellipse cx="1267.1" cy="423.2" rx="7.8" ry="7.3" fill="#000"/>
<ellipse cx="1267.1" cy="458.8" rx="7.8" ry="7.3" fill="#000"/>
<ellipse cx="1267.1" cy="493.9" rx="7.8" ry="7.3" fill="#000"/>
<ellipse cx="1267.1" cy="529.1" rx="7.8" ry="7.3" fill="#000"/>
<ellipse cx="1289.93" cy="493.9" rx="7.8" ry="7.3" fill="#cbcbcb"/>
<ellipse cx="1289.93" cy="564.4" rx="7.8" ry="7.3" fill="#cbcbcb"/>
<line x1="1289.93" y1="423.2" x2="1289.93" y2="599.4" stroke="#000" stroke-width="3"/>
<ellipse cx="1289.93" cy="423.2" rx="7.8" ry="7.3" fill="#000"/>
<ellipse cx="1289.93" cy="458.8" rx="7.8" ry="7.3" fill="#000"/>
<ellipse cx="1289.93" cy="529.1" rx="7.8" ry="7.3" fill="#000"/>
<ellipse cx="1289.93" cy="599.4" rx="7.8" ry="7.3" fill="#000"/>
<ellipse cx="1312.76" cy="423.2" rx="7.8" ry="7.3" fill="#cbcbcb"/>
<ellipse cx="1312.76" cy="458.8" rx="7.8" ry="7.3" fill="#cbcbcb"/>
<line x1="1312.76" y1="493.9" x2="1312.76" y2="599.4" stroke="#000" stroke-width="3"/>
<ellipse cx="1312.76" cy="493.9" rx="7.8" ry="7.3" fill="#000"/>
<ellipse cx="1312.76" cy="529.1" rx="7.8" ry="7.3" fill="#000"/>
<ellipse cx="1312.76" cy="564.4" rx="7.8" ry="7.3" fill="#000"/>
<ellipse cx="1312.76" cy="599.4" rx="7.8" ry="7.3" fill="#000"/>
<ellipse cx="1335.59" cy="458.8" rx="7.8" ry="7.3" fill="#cbcbcb"/>
<ellipse cx="1335.59" cy="564.4" rx="7.8" ry="7.3" fill="#cbcbcb"/>
<line x1="1335.59" y1="423.2" x2="1335.59" y2="599.4" stroke="#000" stroke-width="3"/>
<ellipse cx="1335.59" cy="423.2" rx="7.8" ry="7.3" fill="#000"/>
<ellipse cx="1335.59" cy="493.9" rx="7.8" ry="7.3" fill="#000"/>
<ellipse cx="1335.59" cy="529.1" rx="7.8" ry="7.3" fill="#000"/>
<ellipse cx="1335.59" cy="599.4" rx="7.8" ry="7.3" fill="#000"/>
<ellipse cx="1358.42" cy="529.1" rx="7.8" ry="7.3" fill="#cbcbcb"/>
<ellipse cx="1358.42" cy="564.4" rx="7.8" ry="7.3" fill="#cbcbcb"/>
<line x1="1358.42" y1="423.2" x2="1358.42" y2="599.4" stroke="#000" stroke-width="3"/>
<ellipse cx="1358.42" cy="423.2" rx="7.8" ry="7.3" fill="#000"/>
<ellipse cx="1358.42" cy="458.8" rx="7.8" ry="7.3" fill="#000"/>
<ellipse cx="1358.42" cy="493.9" rx="7.8" ry="7.3" fill="#000"/>
<ellipse cx="1358.42" cy="599.4" rx="7.8" ry="7.3" fill="#000"/>
<ellipse cx="1381.25" cy="458.8" rx="7.8" ry="7.3" fill="#cbcbcb"/>
<ellipse cx="1381.25" cy="493.9" rx="7.8" ry="7.3" fill="#cbcbcb"/>
<line x1="1381.25" y1="423.2" x2="1381.25" y2="599.4" stroke="#000" stroke-width="3"/>
<ellipse cx="1381.25" cy="423.2" rx="7.8" ry="7.3" fill="#000"/>
<ellipse cx="1381.25" cy="529.1" rx="7.8" ry="7.3" fill="#000"/>
<ellipse cx="1381.25" cy="564.4" rx="7.8" ry="7.3" fill="#000"/>
<ellipse cx="1381.25" cy="599.4" rx="7.8" ry="7.3" fill="#000"/>
<ellipse cx="1404.08" cy="423.2" rx="7.8" ry="7.3" fill="#cbcbcb"/>
<ellipse cx="1404.08" cy="564.4" rx="7.8" ry="7.3" fill="#cbcbcb"/>
<line x1="1404.08" y1="458.8" x2="1404.08" y2="599.4" stroke="#000" stroke-width="3"/>
<ellipse cx="1404.08" cy="458.8" rx="7.8" ry="7.3" fill="#000"/>
<ellipse cx="1404.08" cy="493.9" rx="7.8" ry="7.3" fill="#000"/>
<ellipse cx="1404.08" cy="529.1" rx="7.8" ry="7.3" fill="#000"/>
<ellipse cx="1404.08" cy="599.4" rx="7.8" ry="7.3" fill="#000"/>
<ellipse cx="1426.91" cy="529.1" rx="7.8" ry="7.3" fill="#cbcbcb"/>
<ellipse cx="1426.91" cy="599.4" rx="7.8" ry="7.3" fill="#cbcbcb"/>
<line x1="1426.91" y1="423.2" x2="1426.91" y2="564.4" stroke="#000" stroke-width="3"/>
<ellipse cx="1426.91" cy="423.2" rx="7.8" ry="7.3" fill="#000"/>
<ellipse cx="1426.91" cy="458.8" rx="7.8" ry="7.3" fill="#000"/>
<ellipse cx="1426.91" cy="493.9" rx="7.8" ry="7.3" fill="#000"/>
<ellipse cx="1426.91" cy="564.4" rx="7.8" ry="7.3" fill="#000"/>
<ellipse cx="1449.74" cy="564.4" rx="7.8" ry="7.3" fill="#cbcbcb"/>
<line x1="1449.74" y1="423.2" x2="1449.74" y2="599.4" stroke="#000" stroke-width="3"/>
<ellipse cx="1449.74" cy="423.2" rx="7.8" ry="7.3" fill="#000"/>
<ellipse cx="1449.74" cy="458.8" rx="7.8" ry="7.3" fill="#000"/>
<ellipse cx="1449.74" cy="493.9" rx="7.8" ry="7.3" fill="#000"/>
<ellipse cx="1449.74" cy="529.1" rx="7.8" ry="7.3" fill="#000"/>
<ellipse cx="1449.74" cy="599.4" rx="7.8" ry="7.3" fill="#000"/>
<ellipse cx="1472.57" cy="529.1" rx="7.8" ry="7.3" fill="#cbcbcb"/>
<line x1="1472.57" y1="423.2" x2="1472.57" y2="599.4" stroke="#000" stroke-width="3"/>
<ellipse cx="1472.57" cy="423.2" rx="7.8" ry="7.3" fill="#000"/>
<ellipse cx="1472.57" cy="458.8" rx="7.8" ry="7.3" fill="#000"/>
<ellipse cx="1472.57" cy="493.9" rx="7.8" ry="7.3" fill="#000"/>
<ellipse cx="1472.57" cy="564.4" rx="7.8" ry="7.3" fill="#000"/>
<ellipse cx="1472.57" cy="599.4" rx="7.8" ry="7.3" fill="#000"/>
<ellipse cx="1495.4" cy="458.8" rx="7.8" ry="7.3" fill="#cbcbcb"/>
<line x1="1495.4" y1="423.2" x2="1495.4" y2="599.4" stroke="#000" stroke-width="3"/>
<ellipse cx="1495.4" cy="423.2" rx="7.8" ry="7.3" fill="#000"/>
<ellipse cx="1495.4" cy="493.9" rx="7.8" ry="7.3" fill="#000"/>
<ellipse cx="1495.4" cy="529.1" rx="7.8" ry="7.3" fill="#000"/>
<ellipse cx="1495.4" cy="564.4" rx="7.8" ry="7.3" fill="#000"/>
<ellipse cx="1495.4" cy="599.4" rx="7.8" ry="7.3" fill="#000"/>
<ellipse cx="1518.23" cy="599.4" rx="7.8" ry="7.3" fill="#cbcbcb"/>
<line x1="1518.23" y1="423.2" x2="1518.23" y2="564.4" stroke="#000" stroke-width="3"/>
<ellipse cx="1518.23" cy="423.2" rx="7.8" ry="7.3" fill="#000"/>
<ellipse cx="1518.23" cy="458.8" rx="7.8" ry="7.3" fill="#000"/>
<ellipse cx="1518.23" cy="493.9" rx="7.8" ry="7.3" fill="#000"/>
<ellipse cx="1518.23" cy="529.1" rx="7.8" ry="7.3" fill="#000"/>
<ellipse cx="1518.23" cy="564.4" rx="7.8" ry="7.3" fill="#000"/>
<ellipse cx="1541.06" cy="493.9" rx="7.8" ry="7.3" fill="#cbcbcb"/>
<line x1="1541.06" y1="423.2" x2="1541.06" y2="599.4" stroke="#000" stroke-width="3"/>
<ellipse cx="1541.06" cy="423.2" rx="7.8" ry="7.3" fill="#000"/>
<ellipse cx="1541.06" cy="458.8" rx="7.8" ry="7.3" fill="#000"/>
<ellipse cx="1541.06" cy="529.1" rx="7.8" ry="7.3" fill="#000"/>
<ellipse cx="1541.06" cy="564.4" rx="7.8" ry="7.3" fill="#000"/>
<ellipse cx="1541.06" cy="599.4" rx="7.8" ry="7.3" fill="#000"/>
<line x1="1563.89" y1="423.2" x2="1563.89" y2="599.4" stroke="#000" stroke-width="3"/>
<ellipse cx="1563.89" cy="423.2" rx="7.8" ry="7.3" fill="#000"/>
<ellipse cx="1563.89" cy="458.8" rx="7.8" ry="7.3" fill="#000"/>
<ellipse cx="1563.89" cy="493.9" rx="7.8" ry="7.3" fill="#000"/>
<ellipse cx="1563.89" cy="529.1" rx="7.8" ry="7.3" fill="#000"/>
<ellipse cx="1563.89" cy="564.4" rx="7.8" ry="7.3" fill="#000"/>
<ellipse cx="1563.89" cy="599.4" rx="7.8" ry="7.3" fill="#000"/>
<text x="785" y="431.1" text-anchor="end">Stim</text>
<text x="785" y="466.7" text-anchor="end">Adenosine</text>
<text x="785" y="501.8" text-anchor="end">Cyclosporine</text>
<text x="785" y="537" text-anchor="end">Tacrolimus</text>
<text x="785" y="572.3" text-anchor="end">TGFβ</text>
<text x="761.5" y="607.3" text-anchor="end">T</text>
<text x="761.8" y="619.1" font-size="15">reg</text>
<rect x="1368.5" y="60.2" width="116" height="62.4" rx="13" fill="#fff" stroke="#000" stroke-width="2"/>
<text x="1425.5" y="85.7" text-anchor="middle" font-size="21" fill="#d0606e" font-style="italic">RASA2</text>
<text x="1425.5" y="111.2" text-anchor="middle" font-size="21" font-style="italic">TMEM222</text>
<path d="M1484.5,90.6 H1550 Q1563,90.6 1563,103.6 V336" fill="none" stroke="#000" stroke-width="2"/>
<path d="M1563,346 L1556.5,331 L1563,335 L1569.5,331 Z" fill="#000"/>
<rect x="1237.8" y="133" width="217.2" height="147" rx="16" fill="#fff" stroke="#000" stroke-width="2"/>
<text x="1297" y="162.5" text-anchor="middle" font-size="21" font-style="italic">CBLB</text>
<text x="1398" y="162.5" text-anchor="middle" font-size="21" font-style="italic">SOCS1</text>
<text x="1297" y="187.4" text-anchor="middle" font-size="21" font-style="italic">CDKN1B</text>
<text x="1398" y="187.4" text-anchor="middle" font-size="21" font-style="italic">TGFBR1</text>
<text x="1297" y="212.3" text-anchor="middle" font-size="21" font-style="italic">CYC1</text>
<text x="1398" y="212.3" text-anchor="middle" font-size="21" font-style="italic">TNFAIP3</text>
<text x="1297" y="237.2" text-anchor="middle" font-size="21" font-style="italic">DGKA</text>
<text x="1398" y="237.2" text-anchor="middle" font-size="21" font-style="italic">TNS2</text>
<text x="1297" y="262.1" text-anchor="middle" font-size="21" font-style="italic">FAM49B</text>
<text x="1398" y="262.1" text-anchor="middle" font-size="21" font-style="italic">UBE2F</text>
<path d="M1455,200.7 H1482 Q1495,200.7 1495,213.7 V288" fill="none" stroke="#000" stroke-width="2"/>
<path d="M1495,298 L1488.5,283 L1495,287 L1501.5,283 Z" fill="#000"/>
<path d="M1438.7,321.5 V312 H1551.3 V321.5 M1495,312 V304.5" fill="none" stroke="#000" stroke-width="2"/>
<text x="1794" y="29" font-size="26">Non-dividing</text>
<text x="2037" y="29" font-size="26">Dividing</text>
<line x1="1880" y1="44" x2="2077" y2="44" stroke="#000" stroke-width="2"/>
<path d="M1870.5,44 L1886,37.5 L1882,44 L1886,50.5 Z" fill="#000" stroke="#000" stroke-width="1"/>
<path d="M2086,44 L2070.5,37.5 L2074.5,44 L2070.5,50.5 Z" fill="#000" stroke="#000" stroke-width="1"/>
<rect x="1864.5" y="57.9" width="224" height="28.2" fill="#fff"/>
<rect x="1872" y="58.9" width="209" height="26.2" fill="url(#cg0)"/>
<rect x="1974.1" y="58.9" width="2.7" height="26.2" fill="#ff1493"/>
<rect x="1980.9" y="58.9" width="2.3" height="26.2" fill="#ff1493"/>
<rect x="1985" y="58.9" width="7.7" height="26.2" fill="#ff1493"/>
<rect x="1996.8" y="58.9" width="2.7" height="26.2" fill="#ff1493"/>
<rect x="2002.2" y="58.9" width="2.3" height="26.2" fill="#ff1493"/>
<rect x="2006.1" y="58.9" width="1.6" height="26.2" fill="#ff1493"/>
<rect x="2016.7" y="58.9" width="2.3" height="26.2" fill="#ff1493"/>
<rect x="2025.4" y="58.9" width="4.5" height="26.2" fill="#ff1493"/>
<rect x="2037.6" y="58.9" width="2.3" height="26.2" fill="#ff1493"/>
<rect x="1864.5" y="57.9" width="224" height="28.2" rx="1.5" fill="none" stroke="#000" stroke-width="2.4"/>
<text x="1847" y="79.4" text-anchor="end">Stim</text>
<rect x="1864.5" y="90.8" width="224" height="28.2" fill="#fff"/>
<rect x="1872" y="91.8" width="209" height="26.2" fill="url(#cg1)"/>
<line x1="1967.5" y1="91.8" x2="1967.5" y2="118" stroke="#1a1a1a" stroke-width="1"/>
<rect x="1977.3" y="91.8" width="2.7" height="26.2" fill="#ff1493"/>
<rect x="1983.2" y="91.8" width="2.7" height="26.2" fill="#ff1493"/>
<rect x="1991.8" y="91.8" width="2.2" height="26.2" fill="#ff1493"/>
<rect x="2008.1" y="91.8" width="4.1" height="26.2" fill="#ff1493"/>
<rect x="2017.9" y="91.8" width="2" height="26.2" fill="#ff1493"/>
<rect x="2044" y="91.8" width="2.7" height="26.2" fill="#ff1493"/>
<rect x="2052.1" y="91.8" width="2.7" height="26.2" fill="#ff1493"/>
<rect x="1864.5" y="90.8" width="224" height="28.2" rx="1.5" fill="none" stroke="#000" stroke-width="2.4"/>
<text x="1847" y="112.3" text-anchor="end">Adenosine</text>
<rect x="1864.5" y="123.2" width="224" height="28.2" fill="#fff"/>
<rect x="1872" y="124.2" width="209" height="26.2" fill="url(#cg2)"/>
<line x1="1965.5" y1="124.2" x2="1965.5" y2="150.4" stroke="#1a1a1a" stroke-width="1"/>
<line x1="1970" y1="124.2" x2="1970" y2="150.4" stroke="#1a1a1a" stroke-width="1"/>
<rect x="1975" y="124.2" width="2.3" height="26.2" fill="#ff1493"/>
<rect x="1982.7" y="124.2" width="2.7" height="26.2" fill="#ff1493"/>
<rect x="2017.9" y="124.2" width="2.5" height="26.2" fill="#ff1493"/>
<rect x="2033.1" y="124.2" width="2.2" height="26.2" fill="#ff1493"/>
<rect x="1864.5" y="123.2" width="224" height="28.2" rx="1.5" fill="none" stroke="#000" stroke-width="2.4"/>
<text x="1847" y="144.7" text-anchor="end">Cyclosporine</text>
<rect x="1864.5" y="155.5" width="224" height="28.2" fill="#fff"/>
<rect x="1872" y="156.5" width="209" height="26.2" fill="url(#cg3)"/>
<line x1="1964.4" y1="156.5" x2="1964.4" y2="182.7" stroke="#1a1a1a" stroke-width="1"/>
<line x1="1981.5" y1="156.5" x2="1981.5" y2="182.7" stroke="#1a1a1a" stroke-width="1"/>
<line x1="1984" y1="156.5" x2="1984" y2="182.7" stroke="#1a1a1a" stroke-width="1"/>
<rect x="1992.2" y="156.5" width="2.3" height="26.2" fill="#ff1493"/>
<rect x="2004.9" y="156.5" width="1.9" height="26.2" fill="#ff1493"/>
<rect x="2016.3" y="156.5" width="1.8" height="26.2" fill="#ff1493"/>
<rect x="2035.3" y="156.5" width="2.3" height="26.2" fill="#ff1493"/>
<rect x="1864.5" y="155.5" width="224" height="28.2" rx="1.5" fill="none" stroke="#000" stroke-width="2.4"/>
<text x="1847" y="177" text-anchor="end">Tacrolimus</text>
<rect x="1864.5" y="187.9" width="224" height="28.2" fill="#fff"/>
<rect x="1872" y="188.9" width="209" height="26.2" fill="url(#cg4)"/>
<line x1="1965.5" y1="188.9" x2="1965.5" y2="215.1" stroke="#1a1a1a" stroke-width="1"/>
<line x1="1968" y1="188.9" x2="1968" y2="215.1" stroke="#1a1a1a" stroke-width="1"/>
<rect x="1980.9" y="188.9" width="2.3" height="26.2" fill="#ff1493"/>
<rect x="1993.1" y="188.9" width="2.8" height="26.2" fill="#ff1493"/>
<rect x="2015.4" y="188.9" width="2" height="26.2" fill="#ff1493"/>
<rect x="2018.8" y="188.9" width="2" height="26.2" fill="#ff1493"/>
<rect x="1864.5" y="187.9" width="224" height="28.2" rx="1.5" fill="none" stroke="#000" stroke-width="2.4"/>
<text x="1847" y="209.4" text-anchor="end">TGFβ</text>
<rect x="1864.5" y="220.5" width="224" height="28.2" fill="#fff"/>
<rect x="1872" y="221.5" width="209" height="26.2" fill="url(#cg5)"/>
<rect x="1975" y="221.5" width="4.1" height="26.2" fill="#ff1493"/>
<rect x="1981.8" y="221.5" width="8.2" height="26.2" fill="#ff1493"/>
<rect x="1991.8" y="221.5" width="7.7" height="26.2" fill="#ff1493"/>
<rect x="2008.1" y="221.5" width="1.8" height="26.2" fill="#ff1493"/>
<rect x="2010.8" y="221.5" width="1.8" height="26.2" fill="#ff1493"/>
<rect x="2029.9" y="221.5" width="2.7" height="26.2" fill="#ff1493"/>
<rect x="1864.5" y="220.5" width="224" height="28.2" rx="1.5" fill="none" stroke="#000" stroke-width="2.4"/>
<text x="1830" y="242" text-anchor="end">T</text>
<text x="1829.3" y="250.5" font-size="15">reg</text>
<text x="1969" y="275" text-anchor="middle" font-style="italic">RASA2</text>
<rect x="1867" y="299.1" width="223" height="25" fill="url(#dg0)"/>
<rect x="1977" y="300.1" width="1.8" height="23.5" fill="#d45a6a"/>
<rect x="1983.9" y="300.1" width="2.1" height="23.5" fill="#d45a6a"/>
<rect x="1988.1" y="300.1" width="1.7" height="23.5" fill="#d45a6a"/>
<rect x="1991.6" y="300.1" width="1.2" height="23.5" fill="#d45a6a"/>
<rect x="1994.1" y="300.1" width="2.6" height="23.5" fill="#d45a6a"/>
<rect x="2001" y="300.1" width="3" height="23.5" fill="#d45a6a"/>
<rect x="2007.1" y="300.1" width="1.7" height="23.5" fill="#d45a6a"/>
<rect x="2011.2" y="300.1" width="1.3" height="23.5" fill="#d45a6a"/>
<rect x="2023" y="300.1" width="1.8" height="23.5" fill="#d45a6a"/>
<rect x="2032.3" y="300.1" width="1.3" height="23.5" fill="#d45a6a"/>
<rect x="2035.3" y="300.1" width="1.3" height="23.5" fill="#d45a6a"/>
<rect x="2045.4" y="300.1" width="1.4" height="23.5" fill="#d45a6a"/>
<text x="1849.5" y="319.6" text-anchor="end" font-size="24.3" font-style="italic">RASA2</text>
<rect x="1867" y="329.55" width="223" height="25" fill="url(#dg1)"/>
<rect x="1964.1" y="330.55" width="2" height="23.5" fill="#00cccc"/>
<rect x="1970.6" y="330.55" width="1.8" height="23.5" fill="#00cccc"/>
<rect x="1972.8" y="330.55" width="2.1" height="23.5" fill="#00cccc"/>
<rect x="1976.6" y="330.55" width="1.7" height="23.5" fill="#00cccc"/>
<rect x="1978.6" y="330.55" width="2.3" height="23.5" fill="#00cccc"/>
<rect x="1982" y="330.55" width="3.2" height="23.5" fill="#00cccc"/>
<rect x="1985.6" y="330.55" width="2.5" height="23.5" fill="#00cccc"/>
<rect x="1990" y="330.55" width="2" height="23.5" fill="#00cccc"/>
<rect x="1996.9" y="330.55" width="3.2" height="23.5" fill="#00cccc"/>
<rect x="2000.8" y="330.55" width="1" height="23.5" fill="#00cccc"/>
<rect x="2002.5" y="330.55" width="1.4" height="23.5" fill="#00cccc"/>
<rect x="2007.3" y="330.55" width="1.7" height="23.5" fill="#00cccc"/>
<text x="1851" y="350.05" text-anchor="end" font-size="24.3" font-style="italic">RASAL1</text>
<rect x="1867" y="360" width="223" height="25" fill="url(#dg2)"/>
<rect x="1936.1" y="361" width="1.7" height="23.5" fill="#00cccc"/>
<rect x="1941.2" y="361" width="1.9" height="23.5" fill="#00cccc"/>
<rect x="1958.7" y="361" width="1.7" height="23.5" fill="#00cccc"/>
<rect x="1962" y="361" width="1.8" height="23.5" fill="#00cccc"/>
<rect x="1976" y="361" width="2.8" height="23.5" fill="#00cccc"/>
<rect x="1983" y="361" width="6" height="23.5" fill="#00cccc"/>
<rect x="1991.4" y="361" width="1.7" height="23.5" fill="#00cccc"/>
<text x="1851" y="380.5" text-anchor="end" font-size="24.3" font-style="italic">RASA4</text>
<rect x="1867" y="390.45" width="223" height="25" fill="url(#dg3)"/>
<rect x="1947.9" y="391.45" width="1.7" height="23.5" fill="#00cccc"/>
<rect x="1960.8" y="391.45" width="1.7" height="23.5" fill="#00cccc"/>
<rect x="1964.7" y="391.45" width="1.7" height="23.5" fill="#00cccc"/>
<rect x="1967.7" y="391.45" width="1.7" height="23.5" fill="#00cccc"/>
<rect x="1971.5" y="391.45" width="1.7" height="23.5" fill="#00cccc"/>
<rect x="1978.8" y="391.45" width="5.1" height="23.5" fill="#00cccc"/>
<rect x="1984.7" y="391.45" width="2.6" height="23.5" fill="#00cccc"/>
<rect x="1994.1" y="391.45" width="5" height="23.5" fill="#00cccc"/>
<text x="1852" y="410.95" text-anchor="end" font-size="24.3" font-style="italic">RASAL2</text>
<rect x="1867" y="420.9" width="223" height="25" fill="url(#dg4)"/>
<rect x="1958.1" y="421.9" width="1.9" height="23.5" fill="#00cccc"/>
<rect x="1964.9" y="421.9" width="2.3" height="23.5" fill="#00cccc"/>
<rect x="1970.2" y="421.9" width="3" height="23.5" fill="#00cccc"/>
<rect x="1974.9" y="421.9" width="1.3" height="23.5" fill="#00cccc"/>
<rect x="1979.6" y="421.9" width="1.7" height="23.5" fill="#00cccc"/>
<rect x="1981.7" y="421.9" width="4.3" height="23.5" fill="#00cccc"/>
<rect x="1988.1" y="421.9" width="4.3" height="23.5" fill="#00cccc"/>
<rect x="1993.3" y="421.9" width="3.8" height="23.5" fill="#00cccc"/>
<text x="1854" y="441.4" text-anchor="end" font-size="24.3" font-style="italic">RASA3</text>
<rect x="1867" y="451.35" width="223" height="25" fill="url(#dg5)"/>
<rect x="1961.9" y="452.35" width="4.2" height="23.5" fill="#00cccc"/>
<rect x="1970.2" y="452.35" width="3.4" height="23.5" fill="#00cccc"/>
<rect x="1973.8" y="452.35" width="4.5" height="23.5" fill="#00cccc"/>
<rect x="1978.8" y="452.35" width="1.2" height="23.5" fill="#00cccc"/>
<rect x="1983.9" y="452.35" width="3.2" height="23.5" fill="#00cccc"/>
<rect x="1992.8" y="452.35" width="1.5" height="23.5" fill="#00cccc"/>
<rect x="1999.1" y="452.35" width="1.7" height="23.5" fill="#00cccc"/>
<rect x="2002.8" y="452.35" width="1.4" height="23.5" fill="#00cccc"/>
<rect x="2004.8" y="452.35" width="2.1" height="23.5" fill="#00cccc"/>
<rect x="2018" y="452.35" width="1.5" height="23.5" fill="#00cccc"/>
<rect x="2021.2" y="452.35" width="1.8" height="23.5" fill="#00cccc"/>
<text x="1855" y="471.85" text-anchor="end" font-size="24.3" font-style="italic">RASAL3</text>
<rect x="1867" y="481.8" width="223" height="25" fill="url(#dg6)"/>
<rect x="1943.3" y="482.8" width="1.8" height="23.5" fill="#00cccc"/>
<rect x="1951.3" y="482.8" width="1.7" height="23.5" fill="#00cccc"/>
<rect x="1953.8" y="482.8" width="1.5" height="23.5" fill="#00cccc"/>
<rect x="1957" y="482.8" width="1.4" height="23.5" fill="#00cccc"/>
<rect x="1961.7" y="482.8" width="1.5" height="23.5" fill="#00cccc"/>
<rect x="1971.5" y="482.8" width="2.6" height="23.5" fill="#00cccc"/>
<rect x="1978.8" y="482.8" width="3.8" height="23.5" fill="#00cccc"/>
<rect x="1986" y="482.8" width="2.1" height="23.5" fill="#00cccc"/>
<rect x="1991.1" y="482.8" width="2" height="23.5" fill="#00cccc"/>
<rect x="1998" y="482.8" width="3" height="23.5" fill="#00cccc"/>
<rect x="2021.2" y="482.8" width="1.8" height="23.5" fill="#00cccc"/>
<text x="1855.8" y="502.3" text-anchor="end" font-size="24.3" font-style="italic">RASA1</text>
<rect x="1867" y="512.25" width="223" height="25" fill="url(#dg7)"/>
<rect x="1961" y="513.25" width="2" height="23.5" fill="#00cccc"/>
<rect x="1964.7" y="513.25" width="3.4" height="23.5" fill="#00cccc"/>
<rect x="1970.9" y="513.25" width="4.4" height="23.5" fill="#00cccc"/>
<rect x="1981.7" y="513.25" width="2.2" height="23.5" fill="#00cccc"/>
<rect x="1986.9" y="513.25" width="8.1" height="23.5" fill="#00cccc"/>
<rect x="2001.4" y="513.25" width="1.7" height="23.5" fill="#00cccc"/>
<text x="1855.8" y="532.75" text-anchor="end" font-size="24.3" font-style="italic">NF1</text>
<rect x="1867" y="542.7" width="223" height="25" fill="url(#dg8)"/>
<rect x="1929.7" y="543.7" width="2.3" height="23.5" fill="#0000ff"/>
<rect x="1942.9" y="543.7" width="2.2" height="23.5" fill="#0000ff"/>
<rect x="1947" y="543.7" width="5.7" height="23.5" fill="#0000ff"/>
<rect x="1959" y="543.7" width="4" height="23.5" fill="#0000ff"/>
<rect x="1971.8" y="543.7" width="2" height="23.5" fill="#0000ff"/>
<rect x="1975.5" y="543.7" width="2.2" height="23.5" fill="#0000ff"/>
<rect x="1980.3" y="543.7" width="2" height="23.5" fill="#0000ff"/>
<text x="1856" y="563.2" text-anchor="end" font-size="24.3" font-style="italic">RASGRP1</text>
<rect x="1865.2" y="297.9" width="227.4" height="270.6" fill="none" stroke="#000" stroke-width="2.4"/>
<line x1="1899.2" y1="569" x2="1899.2" y2="574.5" stroke="#000" stroke-width="2"/>
<text x="1891.6" y="597.7" text-anchor="middle" font-size="24">−2</text>
<line x1="1940.1" y1="569" x2="1940.1" y2="574.5" stroke="#000" stroke-width="2"/>
<text x="1935.6" y="597.7" text-anchor="middle" font-size="24">−1</text>
<line x1="1981" y1="569" x2="1981" y2="574.5" stroke="#000" stroke-width="2"/>
<text x="1981" y="597.7" text-anchor="middle" font-size="24">0</text>
<line x1="2021.9" y1="569" x2="2021.9" y2="574.5" stroke="#000" stroke-width="2"/>
<text x="2021.9" y="597.7" text-anchor="middle" font-size="24">1</text>
<line x1="2062.8" y1="569" x2="2062.8" y2="574.5" stroke="#000" stroke-width="2"/>
<text x="2062.8" y="597.7" text-anchor="middle" font-size="24">2</text>
<text x="1981" y="626.9" text-anchor="middle" font-size="24">log<tspan font-size="15" dy="8.7">2</tspan><tspan dy="-8.7">FC</tspan></text>
<clipPath id="ecl0"><rect x="108.7" y="697" width="149.7" height="100"/></clipPath>
<g clip-path="url(#ecl0)">
<path d="M108.7,794.5 C117.25,794.33 150.12,793.92 160,793.5 C169.88,793.08 165.5,793.08 168,792 C170.5,790.92 172.83,789.67 175,787 C177.17,784.33 179.22,779.1 181,776 C182.78,772.9 184.2,769.07 185.7,768.4 C187.2,767.73 188.52,770.4 190,772 C191.48,773.6 193.1,778.67 194.6,778 C196.1,777.33 197.6,773.5 199,768 C200.4,762.5 201.75,753.33 203,745 C204.25,736.67 205.43,724.05 206.5,718 C207.57,711.95 208.4,708.7 209.4,708.7 C210.4,708.7 211.4,711.12 212.5,718 C213.6,724.88 214.92,741.33 216,750 C217.08,758.67 218.17,765.83 219,770 C219.83,774.17 220.17,775.83 221,775 C221.83,774.17 222.83,770.83 224,765 C225.17,759.17 226.72,745.85 228,740 C229.28,734.15 230.53,729.9 231.7,729.9 C232.87,729.9 233.95,733.65 235,740 C236.05,746.35 237,760.5 238,768 C239,775.5 239.83,781.17 241,785 C242.17,788.83 243.17,789.67 245,791 C246.83,792.33 249.83,792.58 252,793 C254.17,793.42 257,793.42 258,793.5 L258.4,797 L108.7,797 Z" fill="#a8a8a8"/>
<path d="M108.7,794.5 C117.25,794.33 150.12,793.92 160,793.5 C169.88,793.08 165.5,793.08 168,792 C170.5,790.92 172.83,789.67 175,787 C177.17,784.33 179.22,779.1 181,776 C182.78,772.9 184.2,769.07 185.7,768.4 C187.2,767.73 188.52,770.4 190,772 C191.48,773.6 193.1,778.67 194.6,778 C196.1,777.33 197.6,773.5 199,768 C200.4,762.5 201.75,753.33 203,745 C204.25,736.67 205.43,724.05 206.5,718 C207.57,711.95 208.4,708.7 209.4,708.7 C210.4,708.7 211.4,711.12 212.5,718 C213.6,724.88 214.92,741.33 216,750 C217.08,758.67 218.17,765.83 219,770 C219.83,774.17 220.17,775.83 221,775 C221.83,774.17 222.83,770.83 224,765 C225.17,759.17 226.72,745.85 228,740 C229.28,734.15 230.53,729.9 231.7,729.9 C232.87,729.9 233.95,733.65 235,740 C236.05,746.35 237,760.5 238,768 C239,775.5 239.83,781.17 241,785 C242.17,788.83 243.17,789.67 245,791 C246.83,792.33 249.83,792.58 252,793 C254.17,793.42 257,793.42 258,793.5" fill="none" stroke="#000" stroke-width="2.2"/>
<path d="M108.7,794.5 C117.25,794.33 150.45,793.92 160,793.5 C169.55,793.08 164,793.42 166,792 C168,790.58 170,790.33 172,785 C174,779.67 176.17,770 178,760 C179.83,750 181.5,733.5 183,725 C184.5,716.5 185.67,709.5 187,709 C188.33,708.5 189.67,714.83 191,722 C192.33,729.17 193.92,745.08 195,752 C196.08,758.92 196.67,762.17 197.5,763.5 C198.33,764.83 199.08,764.75 200,760 C200.92,755.25 202,743 203,735 C204,727 205.1,716.17 206,712 C206.9,707.83 207.57,709.33 208.4,710 C209.23,710.67 210.07,710.17 211,716 C211.93,721.83 213,736 214,745 C215,754 215.83,763.5 217,770 C218.17,776.5 219.5,781.25 221,784 C222.5,786.75 224.17,786.2 226,786.5 C227.83,786.8 230.17,785.55 232,785.8 C233.83,786.05 234.83,786.8 237,788 C239.17,789.2 241.5,792 245,793 C248.5,794 255.83,793.83 258,794 L258.4,797 L108.7,797 Z" fill="rgba(204,95,107,0.46)"/>
<path d="M108.7,794.5 C117.25,794.33 150.45,793.92 160,793.5 C169.55,793.08 164,793.42 166,792 C168,790.58 170,790.33 172,785 C174,779.67 176.17,770 178,760 C179.83,750 181.5,733.5 183,725 C184.5,716.5 185.67,709.5 187,709 C188.33,708.5 189.67,714.83 191,722 C192.33,729.17 193.92,745.08 195,752 C196.08,758.92 196.67,762.17 197.5,763.5 C198.33,764.83 199.08,764.75 200,760 C200.92,755.25 202,743 203,735 C204,727 205.1,716.17 206,712 C206.9,707.83 207.57,709.33 208.4,710 C209.23,710.67 210.07,710.17 211,716 C211.93,721.83 213,736 214,745 C215,754 215.83,763.5 217,770 C218.17,776.5 219.5,781.25 221,784 C222.5,786.75 224.17,786.2 226,786.5 C227.83,786.8 230.17,785.55 232,785.8 C233.83,786.05 234.83,786.8 237,788 C239.17,789.2 241.5,792 245,793 C248.5,794 255.83,793.83 258,794" fill="none" stroke="#d0606e" stroke-width="2.2"/>
</g>
<rect x="108.7" y="696.7" width="149.7" height="101.3" fill="none" stroke="#000" stroke-width="2.4"/>
<text x="185.2" y="683.5" text-anchor="middle">Adenosine</text>
<clipPath id="ecl1"><rect x="270.6" y="697" width="145.6" height="100"/></clipPath>
<g clip-path="url(#ecl1)">
<path d="M270.6,794 C280.5,793.92 317.6,793.75 330,793.5 C342.4,793.25 340.83,792.92 345,792.5 C349.17,792.08 352.17,792.08 355,791 C357.83,789.92 359.92,787.67 362,786 C364.08,784.33 365.83,781.33 367.5,781 C369.17,780.67 370.25,784.5 372,784 C373.75,783.5 376.17,782.83 378,778 C379.83,773.17 381.67,763.83 383,755 C384.33,746.17 384.97,732.72 386,725 C387.03,717.28 388.2,709.53 389.2,708.7 C390.2,707.87 391.03,712.28 392,720 C392.97,727.72 394,744.5 395,755 C396,765.5 397,776.83 398,783 C399,789.17 399,790.25 401,792 C403,793.75 407.5,793.17 410,793.5 C412.5,793.83 415,793.92 416,794 L416.2,797 L270.6,797 Z" fill="#a8a8a8"/>
<path d="M270.6,794 C280.5,793.92 317.6,793.75 330,793.5 C342.4,793.25 340.83,792.92 345,792.5 C349.17,792.08 352.17,792.08 355,791 C357.83,789.92 359.92,787.67 362,786 C364.08,784.33 365.83,781.33 367.5,781 C369.17,780.67 370.25,784.5 372,784 C373.75,783.5 376.17,782.83 378,778 C379.83,773.17 381.67,763.83 383,755 C384.33,746.17 384.97,732.72 386,725 C387.03,717.28 388.2,709.53 389.2,708.7 C390.2,707.87 391.03,712.28 392,720 C392.97,727.72 394,744.5 395,755 C396,765.5 397,776.83 398,783 C399,789.17 399,790.25 401,792 C403,793.75 407.5,793.17 410,793.5 C412.5,793.83 415,793.92 416,794" fill="none" stroke="#000" stroke-width="2.2"/>
<path d="M270.6,794 C278.83,793.92 310.43,793.83 320,793.5 C329.57,793.17 325.5,792.92 328,792 C330.5,791.08 332.67,789.67 335,788 C337.33,786.33 339.88,783.95 342,782 C344.12,780.05 346.2,776.97 347.7,776.3 C349.2,775.63 349.78,779.05 351,778 C352.22,776.95 353.5,776.33 355,770 C356.5,763.67 358.5,749.17 360,740 C361.5,730.83 362.92,720.17 364,715 C365.08,709.83 365.67,709 366.5,709 C367.33,709 367.92,709 369,715 C370.08,721 371.83,736.67 373,745 C374.17,753.33 375.12,760.93 376,765 C376.88,769.07 377.47,769.4 378.3,769.4 C379.13,769.4 380.05,768.57 381,765 C381.95,761.43 382.97,751.88 384,748 C385.03,744.12 386.2,741.37 387.2,741.7 C388.2,742.03 389.03,744.45 390,750 C390.97,755.55 391.83,768.67 393,775 C394.17,781.33 395.67,785.08 397,788 C398.33,790.92 397.83,791.5 401,792.5 C404.17,793.5 413.5,793.75 416,794 L416.2,797 L270.6,797 Z" fill="rgba(204,95,107,0.46)"/>
<path d="M270.6,794 C278.83,793.92 310.43,793.83 320,793.5 C329.57,793.17 325.5,792.92 328,792 C330.5,791.08 332.67,789.67 335,788 C337.33,786.33 339.88,783.95 342,782 C344.12,780.05 346.2,776.97 347.7,776.3 C349.2,775.63 349.78,779.05 351,778 C352.22,776.95 353.5,776.33 355,770 C356.5,763.67 358.5,749.17 360,740 C361.5,730.83 362.92,720.17 364,715 C365.08,709.83 365.67,709 366.5,709 C367.33,709 367.92,709 369,715 C370.08,721 371.83,736.67 373,745 C374.17,753.33 375.12,760.93 376,765 C376.88,769.07 377.47,769.4 378.3,769.4 C379.13,769.4 380.05,768.57 381,765 C381.95,761.43 382.97,751.88 384,748 C385.03,744.12 386.2,741.37 387.2,741.7 C388.2,742.03 389.03,744.45 390,750 C390.97,755.55 391.83,768.67 393,775 C394.17,781.33 395.67,785.08 397,788 C398.33,790.92 397.83,791.5 401,792.5 C404.17,793.5 413.5,793.75 416,794" fill="none" stroke="#d0606e" stroke-width="2.2"/>
</g>
<rect x="270.6" y="696.7" width="145.6" height="101.3" fill="none" stroke="#000" stroke-width="2.4"/>
<text x="339.3" y="683.5" text-anchor="middle">Cyclosporine</text>
<clipPath id="ecl2"><rect x="428.6" y="697" width="144.8" height="100"/></clipPath>
<g clip-path="url(#ecl2)">
<path d="M428.6,794 C438.83,793.92 476.43,793.83 490,793.5 C503.57,793.17 505.33,792.75 510,792 C514.67,791.25 515.37,789.93 518,789 C520.63,788.07 523.8,786.9 525.8,786.4 C527.8,785.9 528.73,786.27 530,786 C531.27,785.73 532.23,785.8 533.4,784.8 C534.57,783.8 535.9,783.3 537,780 C538.1,776.7 539,773.33 540,765 C541,756.67 541.87,739.47 543,730 C544.13,720.53 545.63,709.03 546.8,708.2 C547.97,707.37 548.97,715.53 550,725 C551.03,734.47 552,754.67 553,765 C554,775.33 555.13,782.33 556,787 C556.87,791.67 555.37,791.83 558.2,793 C561.03,794.17 570.53,793.83 573,794 L573.4,797 L428.6,797 Z" fill="#a8a8a8"/>
<path d="M428.6,794 C438.83,793.92 476.43,793.83 490,793.5 C503.57,793.17 505.33,792.75 510,792 C514.67,791.25 515.37,789.93 518,789 C520.63,788.07 523.8,786.9 525.8,786.4 C527.8,785.9 528.73,786.27 530,786 C531.27,785.73 532.23,785.8 533.4,784.8 C534.57,783.8 535.9,783.3 537,780 C538.1,776.7 539,773.33 540,765 C541,756.67 541.87,739.47 543,730 C544.13,720.53 545.63,709.03 546.8,708.2 C547.97,707.37 548.97,715.53 550,725 C551.03,734.47 552,754.67 553,765 C554,775.33 555.13,782.33 556,787 C556.87,791.67 555.37,791.83 558.2,793 C561.03,794.17 570.53,793.83 573,794" fill="none" stroke="#000" stroke-width="2.2"/>
<path d="M428.6,794 C438,793.92 473.93,794 485,793.5 C496.07,793 492.33,791.8 495,791 C497.67,790.2 498.73,789.4 501,788.7 C503.27,788 506.6,787.92 508.6,786.8 C510.6,785.68 511.77,784.8 513,782 C514.23,779.2 514.83,776.17 516,770 C517.17,763.83 518.75,752 520,745 C521.25,738 522.53,731.62 523.5,728 C524.47,724.38 525.05,723.3 525.8,723.3 C526.55,723.3 527.13,723.55 528,728 C528.87,732.45 530,743.83 531,750 C532,756.17 533.22,762.22 534,765 C534.78,767.78 535.03,767.2 535.7,766.7 C536.37,766.2 537.12,766.45 538,762 C538.88,757.55 540.08,747.83 541,740 C541.92,732.17 542.6,720.17 543.5,715 C544.4,709.83 545.48,709 546.4,709 C547.32,709 548.07,708.17 549,715 C549.93,721.83 551,739.17 552,750 C553,760.83 554,773.5 555,780 C556,786.5 556.83,786.92 558,789 C559.17,791.08 559.5,791.67 562,792.5 C564.5,793.33 571.17,793.75 573,794 L573.4,797 L428.6,797 Z" fill="rgba(204,95,107,0.46)"/>
<path d="M428.6,794 C438,793.92 473.93,794 485,793.5 C496.07,793 492.33,791.8 495,791 C497.67,790.2 498.73,789.4 501,788.7 C503.27,788 506.6,787.92 508.6,786.8 C510.6,785.68 511.77,784.8 513,782 C514.23,779.2 514.83,776.17 516,770 C517.17,763.83 518.75,752 520,745 C521.25,738 522.53,731.62 523.5,728 C524.47,724.38 525.05,723.3 525.8,723.3 C526.55,723.3 527.13,723.55 528,728 C528.87,732.45 530,743.83 531,750 C532,756.17 533.22,762.22 534,765 C534.78,767.78 535.03,767.2 535.7,766.7 C536.37,766.2 537.12,766.45 538,762 C538.88,757.55 540.08,747.83 541,740 C541.92,732.17 542.6,720.17 543.5,715 C544.4,709.83 545.48,709 546.4,709 C547.32,709 548.07,708.17 549,715 C549.93,721.83 551,739.17 552,750 C553,760.83 554,773.5 555,780 C556,786.5 556.83,786.92 558,789 C559.17,791.08 559.5,791.67 562,792.5 C564.5,793.33 571.17,793.75 573,794" fill="none" stroke="#d0606e" stroke-width="2.2"/>
</g>
<rect x="428.6" y="696.7" width="144.8" height="101.3" fill="none" stroke="#000" stroke-width="2.4"/>
<text x="502" y="683.5" text-anchor="middle">Tacrolimus</text>
<clipPath id="ecl3"><rect x="586.2" y="697" width="145" height="100"/></clipPath>
<g clip-path="url(#ecl3)">
<path d="M586.2,794 C594.33,793.92 625.2,794 635,793.5 C644.8,793 642.17,792.75 645,791 C647.83,789.25 650,785.83 652,783 C654,780.17 655.33,776.72 657,774 C658.67,771.28 660.67,767.7 662,766.7 C663.33,765.7 663.88,767.28 665,768 C666.12,768.72 667.53,771 668.7,771 C669.87,771 670.78,770.67 672,768 C673.22,765.33 674.83,761.33 676,755 C677.17,748.67 677.9,737.75 679,730 C680.1,722.25 681.43,710.5 682.6,708.5 C683.77,706.5 684.77,711.08 686,718 C687.23,724.92 688.83,740.67 690,750 C691.17,759.33 692,769.17 693,774 C694,778.83 694.83,778.67 696,779 C697.17,779.33 698.67,776.72 700,776 C701.33,775.28 702.67,774.03 704,774.7 C705.33,775.37 706.83,777.78 708,780 C709.17,782.22 709.92,785.83 711,788 C712.08,790.17 711.17,792 714.5,793 C717.83,794 728.25,793.83 731,794 L731.2,797 L586.2,797 Z" fill="#a8a8a8"/>
<path d="M586.2,794 C594.33,793.92 625.2,794 635,793.5 C644.8,793 642.17,792.75 645,791 C647.83,789.25 650,785.83 652,783 C654,780.17 655.33,776.72 657,774 C658.67,771.28 660.67,767.7 662,766.7 C663.33,765.7 663.88,767.28 665,768 C666.12,768.72 667.53,771 668.7,771 C669.87,771 670.78,770.67 672,768 C673.22,765.33 674.83,761.33 676,755 C677.17,748.67 677.9,737.75 679,730 C680.1,722.25 681.43,710.5 682.6,708.5 C683.77,706.5 684.77,711.08 686,718 C687.23,724.92 688.83,740.67 690,750 C691.17,759.33 692,769.17 693,774 C694,778.83 694.83,778.67 696,779 C697.17,779.33 698.67,776.72 700,776 C701.33,775.28 702.67,774.03 704,774.7 C705.33,775.37 706.83,777.78 708,780 C709.17,782.22 709.92,785.83 711,788 C712.08,790.17 711.17,792 714.5,793 C717.83,794 728.25,793.83 731,794" fill="none" stroke="#000" stroke-width="2.2"/>
<path d="M586.2,794 C593.5,793.92 621.37,793.83 630,793.5 C638.63,793.17 635.5,793.42 638,792 C640.5,790.58 643,789.5 645,785 C647,780.5 648.33,773.33 650,765 C651.67,756.67 653.5,742.83 655,735 C656.5,727.17 657.92,721.13 659,718 C660.08,714.87 660.67,715.87 661.5,716.2 C662.33,716.53 662.92,715.2 664,720 C665.08,724.8 666.58,738.33 668,745 C669.42,751.67 671.17,758.83 672.5,760 C673.83,761.17 674.92,757.83 676,752 C677.08,746.17 677.9,732.17 679,725 C680.1,717.83 681.43,710.5 682.6,709 C683.77,707.5 684.77,710 686,716 C687.23,722 688.67,735.17 690,745 C691.33,754.83 692.78,768 694,775 C695.22,782 696.13,785.17 697.3,787 C698.47,788.83 699.88,786.17 701,786 C702.12,785.83 702.67,785.33 704,786 C705.33,786.67 707.25,788.83 709,790 C710.75,791.17 710.83,792.33 714.5,793 C718.17,793.67 728.25,793.83 731,794 L731.2,797 L586.2,797 Z" fill="rgba(204,95,107,0.46)"/>
<path d="M586.2,794 C593.5,793.92 621.37,793.83 630,793.5 C638.63,793.17 635.5,793.42 638,792 C640.5,790.58 643,789.5 645,785 C647,780.5 648.33,773.33 650,765 C651.67,756.67 653.5,742.83 655,735 C656.5,727.17 657.92,721.13 659,718 C660.08,714.87 660.67,715.87 661.5,716.2 C662.33,716.53 662.92,715.2 664,720 C665.08,724.8 666.58,738.33 668,745 C669.42,751.67 671.17,758.83 672.5,760 C673.83,761.17 674.92,757.83 676,752 C677.08,746.17 677.9,732.17 679,725 C680.1,717.83 681.43,710.5 682.6,709 C683.77,707.5 684.77,710 686,716 C687.23,722 688.67,735.17 690,745 C691.33,754.83 692.78,768 694,775 C695.22,782 696.13,785.17 697.3,787 C698.47,788.83 699.88,786.17 701,786 C702.12,785.83 702.67,785.33 704,786 C705.33,786.67 707.25,788.83 709,790 C710.75,791.17 710.83,792.33 714.5,793 C718.17,793.67 728.25,793.83 731,794" fill="none" stroke="#d0606e" stroke-width="2.2"/>
</g>
<rect x="586.2" y="696.7" width="145" height="101.3" fill="none" stroke="#000" stroke-width="2.4"/>
<text x="662.3" y="683.5" text-anchor="middle">TGFβ</text>
<text x="100" y="711" text-anchor="end" font-size="20.5" fill="#d0606e">RASA2 KO</text>
<text x="100" y="733.4" text-anchor="end" font-size="20.5">Ctrl</text>
<text x="421.7" y="832.6" text-anchor="middle">CFSE</text>
<line x1="112.9" y1="890" x2="112.9" y2="1032.4" stroke="#000" stroke-width="2"/>
<line x1="105.9" y1="1031.4" x2="258.4" y2="1031.4" stroke="#000" stroke-width="2"/>
<rect x="124.6" y="986.6" width="14.6" height="44.8" fill="#666666" stroke="#000" stroke-width="2"/>
<rect x="140.4" y="1002.28" width="14.6" height="29.12" fill="#d0606e" stroke="#000" stroke-width="2"/>
<line x1="139.8" y1="1031.4" x2="139.8" y2="1038.4" stroke="#000" stroke-width="2"/>
<text x="139.8" y="1063.4" text-anchor="middle">1:1</text>
<path d="M132.3,971.28 l3.9,6.8 h-7.8 Z" fill="rgba(50,50,50,0.5)"/>
<path d="M132.3,973.2 l3.9,6.8 h-7.8 Z" fill="rgba(50,50,50,0.5)"/>
<circle cx="132.3" cy="993.64" r="3.4" fill="rgba(20,20,20,0.55)"/>
<circle cx="132.3" cy="997.8" r="3.4" fill="rgba(20,20,20,0.55)"/>
<circle cx="132.3" cy="996.2" r="3.4" fill="rgba(20,20,20,0.55)"/>
<path d="M147.7,994.32 l3.9,6.8 h-7.8 Z" fill="rgba(50,50,50,0.5)"/>
<path d="M147.7,996.24 l3.9,6.8 h-7.8 Z" fill="rgba(50,50,50,0.5)"/>
<circle cx="147.7" cy="1004.2" r="3.4" fill="rgba(20,20,20,0.55)"/>
<circle cx="147.7" cy="1007.4" r="3.4" fill="rgba(20,20,20,0.55)"/>
<circle cx="147.7" cy="1005.8" r="3.4" fill="rgba(20,20,20,0.55)"/>
<rect x="169.7" y="963.24" width="14.6" height="68.16" fill="#666666" stroke="#000" stroke-width="2"/>
<rect x="185.5" y="984.68" width="14.6" height="46.72" fill="#d0606e" stroke="#000" stroke-width="2"/>
<line x1="184.9" y1="1031.4" x2="184.9" y2="1038.4" stroke="#000" stroke-width="2"/>
<text x="184.9" y="1063.4" text-anchor="middle">1:2</text>
<path d="M177.4,940.56 l3.9,6.8 h-7.8 Z" fill="rgba(50,50,50,0.5)"/>
<path d="M177.4,941.2 l3.9,6.8 h-7.8 Z" fill="rgba(50,50,50,0.5)"/>
<circle cx="177.4" cy="978.6" r="3.4" fill="rgba(20,20,20,0.55)"/>
<circle cx="177.4" cy="983.4" r="3.4" fill="rgba(20,20,20,0.55)"/>
<circle cx="177.4" cy="981.8" r="3.4" fill="rgba(20,20,20,0.55)"/>
<path d="M192.8,971.28 l3.9,6.8 h-7.8 Z" fill="rgba(50,50,50,0.5)"/>
<path d="M192.8,973.84 l3.9,6.8 h-7.8 Z" fill="rgba(50,50,50,0.5)"/>
<circle cx="192.8" cy="993" r="3.4" fill="rgba(20,20,20,0.55)"/>
<circle cx="192.8" cy="994.6" r="3.4" fill="rgba(20,20,20,0.55)"/>
<rect x="214.9" y="932.52" width="14.6" height="98.88" fill="#666666" stroke="#000" stroke-width="2"/>
<rect x="230.7" y="949.48" width="14.6" height="81.92" fill="#d0606e" stroke="#000" stroke-width="2"/>
<line x1="230.1" y1="1031.4" x2="230.1" y2="1038.4" stroke="#000" stroke-width="2"/>
<text x="230.1" y="1063.4" text-anchor="middle">1:4</text>
<path d="M222.6,906 l3.9,6.8 h-7.8 Z" fill="rgba(50,50,50,0.5)"/>
<path d="M222.6,909.2 l3.9,6.8 h-7.8 Z" fill="rgba(50,50,50,0.5)"/>
<circle cx="222.6" cy="950.44" r="3.4" fill="rgba(20,20,20,0.55)"/>
<circle cx="222.6" cy="955.24" r="3.4" fill="rgba(20,20,20,0.55)"/>
<path d="M238,928.4 l3.9,6.8 h-7.8 Z" fill="rgba(50,50,50,0.5)"/>
<path d="M238,933.2 l3.9,6.8 h-7.8 Z" fill="rgba(50,50,50,0.5)"/>
<path d="M238,938 l3.9,6.8 h-7.8 Z" fill="rgba(50,50,50,0.5)"/>
<path d="M238,944.4 l3.9,6.8 h-7.8 Z" fill="rgba(50,50,50,0.5)"/>
<circle cx="238" cy="972.2" r="3.4" fill="rgba(20,20,20,0.55)"/>
<text x="185.4" y="876.1" text-anchor="middle">Adenosine</text>
<line x1="271" y1="890" x2="271" y2="1032.4" stroke="#000" stroke-width="2"/>
<line x1="271" y1="1031.4" x2="417.2" y2="1031.4" stroke="#000" stroke-width="2"/>
<rect x="283.1" y="987.24" width="14.6" height="44.16" fill="#666666" stroke="#000" stroke-width="2"/>
<rect x="298.9" y="998.44" width="14.6" height="32.96" fill="#d0606e" stroke="#000" stroke-width="2"/>
<line x1="298.3" y1="1031.4" x2="298.3" y2="1038.4" stroke="#000" stroke-width="2"/>
<text x="298.3" y="1063.4" text-anchor="middle">1:1</text>
<path d="M290.8,960.4 l3.9,6.8 h-7.8 Z" fill="rgba(50,50,50,0.5)"/>
<path d="M290.8,979.6 l3.9,6.8 h-7.8 Z" fill="rgba(50,50,50,0.5)"/>
<path d="M290.8,981.2 l3.9,6.8 h-7.8 Z" fill="rgba(50,50,50,0.5)"/>
<circle cx="290.8" cy="996.84" r="3.4" fill="rgba(20,20,20,0.55)"/>
<path d="M306.2,991.76 l3.9,6.8 h-7.8 Z" fill="rgba(50,50,50,0.5)"/>
<path d="M306.2,994 l3.9,6.8 h-7.8 Z" fill="rgba(50,50,50,0.5)"/>
<circle cx="306.2" cy="1001.96" r="3.4" fill="rgba(20,20,20,0.55)"/>
<circle cx="306.2" cy="1000.36" r="3.4" fill="rgba(20,20,20,0.55)"/>
<rect x="328.3" y="969.48" width="14.6" height="61.92" fill="#666666" stroke="#000" stroke-width="2"/>
<rect x="344.1" y="985.48" width="14.6" height="45.92" fill="#d0606e" stroke="#000" stroke-width="2"/>
<line x1="343.5" y1="1031.4" x2="343.5" y2="1038.4" stroke="#000" stroke-width="2"/>
<text x="343.5" y="1063.4" text-anchor="middle">1:2</text>
<path d="M336,941.84 l3.9,6.8 h-7.8 Z" fill="rgba(50,50,50,0.5)"/>
<path d="M336,950.8 l3.9,6.8 h-7.8 Z" fill="rgba(50,50,50,0.5)"/>
<path d="M336,951.44 l3.9,6.8 h-7.8 Z" fill="rgba(50,50,50,0.5)"/>
<circle cx="336" cy="986.6" r="3.4" fill="rgba(20,20,20,0.55)"/>
<circle cx="336" cy="988.84" r="3.4" fill="rgba(20,20,20,0.55)"/>
<circle cx="336" cy="987.24" r="3.4" fill="rgba(20,20,20,0.55)"/>
<path d="M351.4,971.6 l3.9,6.8 h-7.8 Z" fill="rgba(50,50,50,0.5)"/>
<path d="M351.4,973.2 l3.9,6.8 h-7.8 Z" fill="rgba(50,50,50,0.5)"/>
<path d="M351.4,976.4 l3.9,6.8 h-7.8 Z" fill="rgba(50,50,50,0.5)"/>
<circle cx="351.4" cy="991.4" r="3.4" fill="rgba(20,20,20,0.55)"/>
<circle cx="351.4" cy="993.64" r="3.4" fill="rgba(20,20,20,0.55)"/>
<circle cx="351.4" cy="995.56" r="3.4" fill="rgba(20,20,20,0.55)"/>
<rect x="373.7" y="942.6" width="14.6" height="88.8" fill="#666666" stroke="#000" stroke-width="2"/>
<rect x="389.5" y="957.64" width="14.6" height="73.76" fill="#d0606e" stroke="#000" stroke-width="2"/>
<line x1="388.9" y1="1031.4" x2="388.9" y2="1038.4" stroke="#000" stroke-width="2"/>
<text x="388.9" y="1063.4" text-anchor="middle">1:4</text>
<path d="M381.4,912.4 l3.9,6.8 h-7.8 Z" fill="rgba(50,50,50,0.5)"/>
<path d="M381.4,918.8 l3.9,6.8 h-7.8 Z" fill="rgba(50,50,50,0.5)"/>
<path d="M381.4,914 l3.9,6.8 h-7.8 Z" fill="rgba(50,50,50,0.5)"/>
<circle cx="381.4" cy="962.6" r="3.4" fill="rgba(20,20,20,0.55)"/>
<circle cx="381.4" cy="969" r="3.4" fill="rgba(20,20,20,0.55)"/>
<circle cx="381.4" cy="968.04" r="3.4" fill="rgba(20,20,20,0.55)"/>
<path d="M396.8,937.04 l3.9,6.8 h-7.8 Z" fill="rgba(50,50,50,0.5)"/>
<circle cx="396.8" cy="975.4" r="3.4" fill="rgba(20,20,20,0.55)"/>
<circle cx="396.8" cy="974.44" r="3.4" fill="rgba(20,20,20,0.55)"/>
<text x="343.2" y="876.1" text-anchor="middle">Cyclosporine</text>
<line x1="430" y1="890" x2="430" y2="1032.4" stroke="#000" stroke-width="2"/>
<line x1="430" y1="1031.4" x2="575.5" y2="1031.4" stroke="#000" stroke-width="2"/>
<rect x="441.9" y="965.32" width="14.6" height="66.08" fill="#666666" stroke="#000" stroke-width="2"/>
<rect x="457.7" y="989.8" width="14.6" height="41.6" fill="#d0606e" stroke="#000" stroke-width="2"/>
<line x1="457.1" y1="1031.4" x2="457.1" y2="1038.4" stroke="#000" stroke-width="2"/>
<text x="457.1" y="1063.4" text-anchor="middle">1:1</text>
<path d="M449.6,938.64 l3.9,6.8 h-7.8 Z" fill="rgba(50,50,50,0.5)"/>
<path d="M449.6,951.44 l3.9,6.8 h-7.8 Z" fill="rgba(50,50,50,0.5)"/>
<circle cx="449.6" cy="973.8" r="3.4" fill="rgba(20,20,20,0.55)"/>
<circle cx="449.6" cy="977.64" r="3.4" fill="rgba(20,20,20,0.55)"/>
<path d="M465,977.04 l3.9,6.8 h-7.8 Z" fill="rgba(50,50,50,0.5)"/>
<path d="M465,979.6 l3.9,6.8 h-7.8 Z" fill="rgba(50,50,50,0.5)"/>
<circle cx="465" cy="994.6" r="3.4" fill="rgba(20,20,20,0.55)"/>
<circle cx="465" cy="996.2" r="3.4" fill="rgba(20,20,20,0.55)"/>
<circle cx="465" cy="997.16" r="3.4" fill="rgba(20,20,20,0.55)"/>
<rect x="487" y="931.56" width="14.6" height="99.84" fill="#666666" stroke="#000" stroke-width="2"/>
<rect x="502.8" y="961.96" width="14.6" height="69.44" fill="#d0606e" stroke="#000" stroke-width="2"/>
<line x1="502.2" y1="1031.4" x2="502.2" y2="1038.4" stroke="#000" stroke-width="2"/>
<text x="502.2" y="1063.4" text-anchor="middle">1:2</text>
<path d="M494.7,898 l3.9,6.8 h-7.8 Z" fill="rgba(50,50,50,0.5)"/>
<path d="M494.7,904.4 l3.9,6.8 h-7.8 Z" fill="rgba(50,50,50,0.5)"/>
<path d="M494.7,906 l3.9,6.8 h-7.8 Z" fill="rgba(50,50,50,0.5)"/>
<circle cx="494.7" cy="956.2" r="3.4" fill="rgba(20,20,20,0.55)"/>
<circle cx="494.7" cy="959.4" r="3.4" fill="rgba(20,20,20,0.55)"/>
<circle cx="494.7" cy="962.6" r="3.4" fill="rgba(20,20,20,0.55)"/>
<path d="M510.1,930 l3.9,6.8 h-7.8 Z" fill="rgba(50,50,50,0.5)"/>
<path d="M510.1,934.8 l3.9,6.8 h-7.8 Z" fill="rgba(50,50,50,0.5)"/>
<path d="M510.1,937.36 l3.9,6.8 h-7.8 Z" fill="rgba(50,50,50,0.5)"/>
<path d="M510.1,941.84 l3.9,6.8 h-7.8 Z" fill="rgba(50,50,50,0.5)"/>
<circle cx="510.1" cy="974.44" r="3.4" fill="rgba(20,20,20,0.55)"/>
<circle cx="510.1" cy="978.6" r="3.4" fill="rgba(20,20,20,0.55)"/>
<circle cx="510.1" cy="980.2" r="3.4" fill="rgba(20,20,20,0.55)"/>
<rect x="532.2" y="912.04" width="14.6" height="119.36" fill="#666666" stroke="#000" stroke-width="2"/>
<rect x="548" y="931.56" width="14.6" height="99.84" fill="#d0606e" stroke="#000" stroke-width="2"/>
<line x1="547.4" y1="1031.4" x2="547.4" y2="1038.4" stroke="#000" stroke-width="2"/>
<text x="547.4" y="1063.4" text-anchor="middle">1:4</text>
<path d="M539.9,895.76 l3.9,6.8 h-7.8 Z" fill="rgba(50,50,50,0.5)"/>
<path d="M539.9,896.4 l3.9,6.8 h-7.8 Z" fill="rgba(50,50,50,0.5)"/>
<circle cx="539.9" cy="913.64" r="3.4" fill="rgba(20,20,20,0.55)"/>
<circle cx="539.9" cy="920.04" r="3.4" fill="rgba(20,20,20,0.55)"/>
<circle cx="539.9" cy="923.24" r="3.4" fill="rgba(20,20,20,0.55)"/>
<path d="M555.3,909.2 l3.9,6.8 h-7.8 Z" fill="rgba(50,50,50,0.5)"/>
<path d="M555.3,912.4 l3.9,6.8 h-7.8 Z" fill="rgba(50,50,50,0.5)"/>
<path d="M555.3,914 l3.9,6.8 h-7.8 Z" fill="rgba(50,50,50,0.5)"/>
<path d="M555.3,917.2 l3.9,6.8 h-7.8 Z" fill="rgba(50,50,50,0.5)"/>
<circle cx="555.3" cy="949.8" r="3.4" fill="rgba(20,20,20,0.55)"/>
<circle cx="555.3" cy="953.96" r="3.4" fill="rgba(20,20,20,0.55)"/>
<text x="501.8" y="876.1" text-anchor="middle">Tacrolimus</text>
<line x1="588.3" y1="890" x2="588.3" y2="1032.4" stroke="#000" stroke-width="2"/>
<line x1="588.3" y1="1031.4" x2="733.8" y2="1031.4" stroke="#000" stroke-width="2"/>
<rect x="600" y="990.28" width="14.6" height="41.12" fill="#666666" stroke="#000" stroke-width="2"/>
<rect x="615.8" y="998.76" width="14.6" height="32.64" fill="#d0606e" stroke="#000" stroke-width="2"/>
<line x1="615.2" y1="1031.4" x2="615.2" y2="1038.4" stroke="#000" stroke-width="2"/>
<text x="615.2" y="1063.4" text-anchor="middle">1:1</text>
<path d="M607.7,976.4 l3.9,6.8 h-7.8 Z" fill="rgba(50,50,50,0.5)"/>
<path d="M607.7,978 l3.9,6.8 h-7.8 Z" fill="rgba(50,50,50,0.5)"/>
<circle cx="607.7" cy="996.84" r="3.4" fill="rgba(20,20,20,0.55)"/>
<path d="M623.1,989.2 l3.9,6.8 h-7.8 Z" fill="rgba(50,50,50,0.5)"/>
<path d="M623.1,991.76 l3.9,6.8 h-7.8 Z" fill="rgba(50,50,50,0.5)"/>
<circle cx="623.1" cy="999.72" r="3.4" fill="rgba(20,20,20,0.55)"/>
<circle cx="623.1" cy="998.44" r="3.4" fill="rgba(20,20,20,0.55)"/>
<rect x="645.4" y="970.76" width="14.6" height="60.64" fill="#666666" stroke="#000" stroke-width="2"/>
<rect x="661.2" y="984.04" width="14.6" height="47.36" fill="#d0606e" stroke="#000" stroke-width="2"/>
<line x1="660.6" y1="1031.4" x2="660.6" y2="1038.4" stroke="#000" stroke-width="2"/>
<text x="660.6" y="1063.4" text-anchor="middle">1:2</text>
<path d="M653.1,949.2 l3.9,6.8 h-7.8 Z" fill="rgba(50,50,50,0.5)"/>
<path d="M653.1,950.8 l3.9,6.8 h-7.8 Z" fill="rgba(50,50,50,0.5)"/>
<path d="M653.1,952.4 l3.9,6.8 h-7.8 Z" fill="rgba(50,50,50,0.5)"/>
<circle cx="653.1" cy="982.76" r="3.4" fill="rgba(20,20,20,0.55)"/>
<path d="M668.5,972.24 l3.9,6.8 h-7.8 Z" fill="rgba(50,50,50,0.5)"/>
<path d="M668.5,973.84 l3.9,6.8 h-7.8 Z" fill="rgba(50,50,50,0.5)"/>
<circle cx="668.5" cy="985.96" r="3.4" fill="rgba(20,20,20,0.55)"/>
<rect x="690.8" y="944.04" width="14.6" height="87.36" fill="#666666" stroke="#000" stroke-width="2"/>
<rect x="706.6" y="957" width="14.6" height="74.4" fill="#d0606e" stroke="#000" stroke-width="2"/>
<line x1="706" y1="1031.4" x2="706" y2="1038.4" stroke="#000" stroke-width="2"/>
<text x="706" y="1061.8" text-anchor="middle">1:4</text>
<path d="M698.5,922 l3.9,6.8 h-7.8 Z" fill="rgba(50,50,50,0.5)"/>
<path d="M698.5,925.2 l3.9,6.8 h-7.8 Z" fill="rgba(50,50,50,0.5)"/>
<path d="M698.5,925.84 l3.9,6.8 h-7.8 Z" fill="rgba(50,50,50,0.5)"/>
<circle cx="698.5" cy="949.48" r="3.4" fill="rgba(20,20,20,0.55)"/>
<circle cx="698.5" cy="952.68" r="3.4" fill="rgba(20,20,20,0.55)"/>
<path d="M713.9,934.16 l3.9,6.8 h-7.8 Z" fill="rgba(50,50,50,0.5)"/>
<path d="M713.9,938 l3.9,6.8 h-7.8 Z" fill="rgba(50,50,50,0.5)"/>
<circle cx="713.9" cy="962.6" r="3.4" fill="rgba(20,20,20,0.55)"/>
<circle cx="713.9" cy="964.84" r="3.4" fill="rgba(20,20,20,0.55)"/>
<text x="658.3" y="876.1" text-anchor="middle">TGFβ</text>
<line x1="105.8" y1="1031.4" x2="112.9" y2="1031.4" stroke="#000" stroke-width="2"/>
<text x="100.6" y="1041.4" text-anchor="end">0</text>
<line x1="105.8" y1="999.4" x2="112.9" y2="999.4" stroke="#000" stroke-width="2"/>
<text x="100.6" y="1009.4" text-anchor="end">100</text>
<line x1="105.8" y1="967.4" x2="112.9" y2="967.4" stroke="#000" stroke-width="2"/>
<text x="100.6" y="977.4" text-anchor="end">200</text>
<line x1="105.8" y1="935.4" x2="112.9" y2="935.4" stroke="#000" stroke-width="2"/>
<text x="100.6" y="945.4" text-anchor="end">300</text>
<line x1="105.8" y1="903.4" x2="112.9" y2="903.4" stroke="#000" stroke-width="2"/>
<text x="100.6" y="913.4" text-anchor="end">400</text>
<text x="0" y="0" text-anchor="middle" transform="translate(44 958.3) rotate(-90)">AUC</text>
<text x="122.4" y="903.7" font-size="20.5" fill="#d0606e">RASA2 KO</text>
<text x="122.4" y="925.6" font-size="20.5">Ctrl</text>
<text x="422" y="1093.6" text-anchor="middle">E:T ratio</text>
<line x1="931.6" y1="694.5" x2="931.6" y2="1030.6" stroke="#000" stroke-width="2.2"/>
<line x1="923.5" y1="1029.6" x2="1233.7" y2="1029.6" stroke="#000" stroke-width="2.2"/>
<line x1="923.5" y1="1029.6" x2="931.6" y2="1029.6" stroke="#000" stroke-width="2.2"/>
<text x="915.6" y="1038.2" text-anchor="end">0</text>
<line x1="923.5" y1="948.4" x2="931.6" y2="948.4" stroke="#000" stroke-width="2.2"/>
<text x="915.6" y="957" text-anchor="end">5,000</text>
<line x1="923.5" y1="867.2" x2="931.6" y2="867.2" stroke="#000" stroke-width="2.2"/>
<text x="915.6" y="875.8" text-anchor="end">10,000</text>
<line x1="923.5" y1="786" x2="931.6" y2="786" stroke="#000" stroke-width="2.2"/>
<text x="915.6" y="794.6" text-anchor="end">15,000</text>
<line x1="923.5" y1="704.8" x2="931.6" y2="704.8" stroke="#000" stroke-width="2.2"/>
<text x="915.6" y="713.4" text-anchor="end">20,000</text>
<rect x="957.2" y="1001.1" width="29" height="28.5" fill="#666666" stroke="#000" stroke-width="2.2"/>
<rect x="990.3" y="858.51" width="29" height="171.09" fill="#d0606e" stroke="#000" stroke-width="2.2"/>
<line x1="988.2" y1="1029.6" x2="988.2" y2="1036.6" stroke="#000" stroke-width="2.2"/>
<line x1="971.7" y1="991" x2="971.7" y2="1011" stroke="#000" stroke-width="2.5"/>
<line x1="968.7" y1="991" x2="974.7" y2="991" stroke="#000" stroke-width="2.5"/>
<line x1="968.7" y1="1011" x2="974.7" y2="1011" stroke="#000" stroke-width="2.5"/>
<line x1="1004.8" y1="838" x2="1004.8" y2="879" stroke="#000" stroke-width="2.5"/>
<line x1="1001.8" y1="838" x2="1007.8" y2="838" stroke="#000" stroke-width="2.5"/>
<line x1="1001.8" y1="879" x2="1007.8" y2="879" stroke="#000" stroke-width="2.5"/>
<circle cx="969.5" cy="972.1" r="4.3" fill="rgba(0,0,0,0.36)"/>
<circle cx="972.9" cy="1001.4" r="4.3" fill="rgba(0,0,0,0.36)"/>
<circle cx="972" cy="1011" r="4.3" fill="rgba(0,0,0,0.36)"/>
<circle cx="973.7" cy="1018.2" r="4.3" fill="rgba(0,0,0,0.36)"/>
<circle cx="1005.2" cy="824.5" r="4.3" fill="rgba(0,0,0,0.36)"/>
<circle cx="1006.8" cy="832.9" r="4.3" fill="rgba(0,0,0,0.36)"/>
<circle cx="1003.5" cy="848.4" r="4.3" fill="rgba(0,0,0,0.36)"/>
<circle cx="1005.2" cy="915.5" r="4.3" fill="rgba(0,0,0,0.36)"/>
<text x="988.2" y="1061" text-anchor="middle">1:2</text>
<rect x="1051" y="987.7" width="29" height="41.9" fill="#666666" stroke="#000" stroke-width="2.2"/>
<rect x="1084.1" y="792.71" width="29" height="236.89" fill="#d0606e" stroke="#000" stroke-width="2.2"/>
<line x1="1082" y1="1029.6" x2="1082" y2="1036.6" stroke="#000" stroke-width="2.2"/>
<line x1="1065.5" y1="974.6" x2="1065.5" y2="1001.4" stroke="#000" stroke-width="2.5"/>
<line x1="1062.5" y1="974.6" x2="1068.5" y2="974.6" stroke="#000" stroke-width="2.5"/>
<line x1="1062.5" y1="1001.4" x2="1068.5" y2="1001.4" stroke="#000" stroke-width="2.5"/>
<line x1="1098.6" y1="774" x2="1098.6" y2="811" stroke="#000" stroke-width="2.5"/>
<line x1="1095.6" y1="774" x2="1101.6" y2="774" stroke="#000" stroke-width="2.5"/>
<line x1="1095.6" y1="811" x2="1101.6" y2="811" stroke="#000" stroke-width="2.5"/>
<circle cx="1063.9" cy="961.6" r="4.3" fill="rgba(0,0,0,0.36)"/>
<circle cx="1066.8" cy="967.9" r="4.3" fill="rgba(0,0,0,0.36)"/>
<circle cx="1064.3" cy="1009" r="4.3" fill="rgba(0,0,0,0.36)"/>
<circle cx="1064.3" cy="1013.2" r="4.3" fill="rgba(0,0,0,0.36)"/>
<circle cx="1099.5" cy="739.8" r="4.3" fill="rgba(0,0,0,0.36)"/>
<circle cx="1097.4" cy="800.6" r="4.3" fill="rgba(0,0,0,0.36)"/>
<circle cx="1099.5" cy="801.4" r="4.3" fill="rgba(0,0,0,0.36)"/>
<circle cx="1099.5" cy="827.8" r="4.3" fill="rgba(0,0,0,0.36)"/>
<text x="1082" y="1061" text-anchor="middle">1:8</text>
<rect x="1145.2" y="983.1" width="29" height="46.5" fill="#666666" stroke="#000" stroke-width="2.2"/>
<rect x="1178.3" y="765.51" width="29" height="264.09" fill="#d0606e" stroke="#000" stroke-width="2.2"/>
<line x1="1176.2" y1="1029.6" x2="1176.2" y2="1036.6" stroke="#000" stroke-width="2.2"/>
<line x1="1159.7" y1="965" x2="1159.7" y2="1000.6" stroke="#000" stroke-width="2.5"/>
<line x1="1156.7" y1="965" x2="1162.7" y2="965" stroke="#000" stroke-width="2.5"/>
<line x1="1156.7" y1="1000.6" x2="1162.7" y2="1000.6" stroke="#000" stroke-width="2.5"/>
<line x1="1192.8" y1="737" x2="1192.8" y2="795" stroke="#000" stroke-width="2.5"/>
<line x1="1189.8" y1="737" x2="1195.8" y2="737" stroke="#000" stroke-width="2.5"/>
<line x1="1189.8" y1="795" x2="1195.8" y2="795" stroke="#000" stroke-width="2.5"/>
<circle cx="1159" cy="931" r="4.3" fill="rgba(0,0,0,0.36)"/>
<circle cx="1159.9" cy="991.4" r="4.3" fill="rgba(0,0,0,0.36)"/>
<circle cx="1160.3" cy="997.2" r="4.3" fill="rgba(0,0,0,0.36)"/>
<circle cx="1160.3" cy="1011" r="4.3" fill="rgba(0,0,0,0.36)"/>
<circle cx="1190.9" cy="726.4" r="4.3" fill="rgba(0,0,0,0.36)"/>
<circle cx="1193.4" cy="726.4" r="4.3" fill="rgba(0,0,0,0.36)"/>
<circle cx="1190.9" cy="761.6" r="4.3" fill="rgba(0,0,0,0.36)"/>
<circle cx="1191.7" cy="850.5" r="4.3" fill="rgba(0,0,0,0.36)"/>
<text x="1176.2" y="1061" text-anchor="middle">1:16</text>
<text x="987" y="798.2" text-anchor="middle" font-size="26" letter-spacing="2">**</text>
<text x="1081.6" y="727.9" text-anchor="middle" font-size="26" letter-spacing="2">***</text>
<text x="1176" y="727.9" text-anchor="middle" font-size="26" letter-spacing="2">**</text>
<text x="949.8" y="719.9" font-size="20.5" fill="#d0606e">RASA2 KO</text>
<text x="949.8" y="746.7" font-size="21.5">Ctrl</text>
<text transform="translate(822 871.6) rotate(-90)" text-anchor="middle">CD8<tspan font-size="15" dy="-9">+</tspan><tspan dy="9"> count</tspan></text>
<text x="1061" y="1089" text-anchor="middle">T<tspan font-size="17" dy="7">reg</tspan><tspan dy="-7">:CD8</tspan><tspan font-size="15" dy="-9">+</tspan><tspan dy="9"> ratio</tspan></text>
<clipPath id="hcl0"><rect x="1364.8" y="640" width="372.1" height="392"/></clipPath>
<g clip-path="url(#hcl0)">
<path d="M1364.8,956.74 C1368.68,953.31 1380.31,943.25 1388.06,936.16 C1395.82,929.07 1403.57,921.41 1411.32,914.21 C1419.08,907.01 1426.83,899.92 1434.59,892.94 C1442.34,885.97 1450.09,878.08 1457.85,872.36 C1465.6,866.65 1473.36,861.96 1481.11,858.64 C1488.86,855.33 1496.62,852.93 1504.37,852.47 C1512.13,852.01 1519.88,853.73 1527.63,855.9 C1535.39,858.07 1539.26,859.67 1550.9,865.5 C1562.53,871.33 1581.91,882.77 1597.42,890.88 C1612.93,899 1628.44,907.58 1643.94,914.21 C1659.45,920.84 1674.96,925.98 1690.47,930.67 C1705.98,935.36 1729.24,940.39 1736.99,942.33 L1736.99,956.05 C1729.24,954.11 1705.98,949.08 1690.47,944.39 C1674.96,939.7 1659.45,934.56 1643.94,927.93 C1628.44,921.3 1612.93,912.72 1597.42,904.6 C1581.91,896.49 1562.53,885.05 1550.9,879.22 C1539.26,873.39 1535.39,871.79 1527.63,869.62 C1519.88,867.45 1512.13,865.73 1504.37,866.19 C1496.62,866.65 1488.86,869.05 1481.11,872.36 C1473.36,875.68 1465.6,880.37 1457.85,886.08 C1450.09,891.8 1442.34,899.69 1434.59,906.66 C1426.83,913.64 1419.08,920.73 1411.32,927.93 C1403.57,935.13 1395.82,942.79 1388.06,949.88 C1380.31,956.97 1368.68,967.03 1364.8,970.46 Z" fill="rgba(150,150,150,0.38)"/>
<path d="M1364.8,958.8 C1368.68,955.02 1380.31,943.71 1388.06,936.16 C1395.82,928.61 1403.57,921.07 1411.32,913.52 C1419.08,905.98 1426.83,898.32 1434.59,890.88 C1442.34,883.45 1450.09,875.79 1457.85,868.93 C1465.6,862.07 1473.36,855.33 1481.11,849.72 C1488.86,844.12 1492.74,840.92 1504.37,835.32 C1516,829.72 1535.39,822.17 1550.9,816.11 C1566.4,810.05 1581.91,803.76 1597.42,798.96 C1612.93,794.16 1628.44,790.04 1643.94,787.3 C1659.45,784.55 1674.96,783.18 1690.47,782.5 C1705.98,781.81 1729.24,783.07 1736.99,783.18 L1736.99,792.79 C1729.24,792.67 1705.98,791.41 1690.47,792.1 C1674.96,792.79 1659.45,794.16 1643.94,796.9 C1628.44,799.65 1612.93,803.76 1597.42,808.56 C1581.91,813.37 1566.4,819.65 1550.9,825.71 C1535.39,831.77 1516,839.32 1504.37,844.92 C1492.74,850.52 1488.86,853.73 1481.11,859.33 C1473.36,864.93 1465.6,871.68 1457.85,878.54 C1450.09,885.4 1442.34,893.06 1434.59,900.49 C1426.83,907.92 1419.08,915.58 1411.32,923.13 C1403.57,930.67 1395.82,938.22 1388.06,945.76 C1380.31,953.31 1368.68,964.63 1364.8,968.4 Z" fill="rgba(150,150,150,0.38)"/>
<path d="M1364.8,958.11 C1368.68,954.45 1380.31,943.48 1388.06,936.16 C1395.82,928.84 1403.57,921.53 1411.32,914.21 C1419.08,906.89 1426.83,899.57 1434.59,892.26 C1442.34,884.94 1450.09,877.05 1457.85,870.3 C1465.6,863.56 1473.36,857.16 1481.11,851.78 C1488.86,846.41 1492.74,843.55 1504.37,838.06 C1516,832.57 1535.39,825.14 1550.9,818.85 C1566.4,812.57 1581.91,806.39 1597.42,800.33 C1612.93,794.27 1628.44,788.1 1643.94,782.5 C1659.45,776.89 1674.96,771.98 1690.47,766.72 C1705.98,761.46 1729.24,753.57 1736.99,750.94 L1736.99,761.92 C1729.24,764.55 1705.98,772.43 1690.47,777.69 C1674.96,782.95 1659.45,787.87 1643.94,793.47 C1628.44,799.07 1612.93,805.25 1597.42,811.31 C1581.91,817.37 1566.4,823.54 1550.9,829.83 C1535.39,836.12 1516,843.55 1504.37,849.04 C1492.74,854.53 1488.86,857.38 1481.11,862.76 C1473.36,868.13 1465.6,874.53 1457.85,881.28 C1450.09,888.03 1442.34,895.91 1434.59,903.23 C1426.83,910.55 1419.08,917.87 1411.32,925.18 C1403.57,932.5 1395.82,939.82 1388.06,947.14 C1380.31,954.45 1368.68,965.43 1364.8,969.09 Z" fill="rgba(150,150,150,0.38)"/>
<path d="M1364.8,960.86 C1368.68,957.31 1380.31,946.68 1388.06,939.59 C1395.82,932.5 1403.57,925.53 1411.32,918.32 C1419.08,911.12 1426.83,903.46 1434.59,896.37 C1442.34,889.28 1450.09,882.19 1457.85,875.79 C1465.6,869.39 1473.36,863.1 1481.11,857.96 C1488.86,852.81 1492.74,850.41 1504.37,844.92 C1516,839.43 1535.39,831.66 1550.9,825.03 C1566.4,818.4 1581.91,812.45 1597.42,805.13 C1612.93,797.82 1628.44,790.61 1643.94,781.12 C1659.45,771.63 1674.96,760.32 1690.47,748.2 C1705.98,736.08 1729.24,715.04 1736.99,708.41 L1736.99,713.9 C1729.24,720.53 1705.98,741.56 1690.47,753.68 C1674.96,765.8 1659.45,777.12 1643.94,786.61 C1628.44,796.1 1612.93,803.3 1597.42,810.62 C1581.91,817.94 1566.4,823.88 1550.9,830.52 C1535.39,837.15 1516,844.92 1504.37,850.41 C1492.74,855.9 1488.86,858.3 1481.11,863.44 C1473.36,868.59 1465.6,874.88 1457.85,881.28 C1450.09,887.68 1442.34,894.77 1434.59,901.86 C1426.83,908.95 1419.08,916.61 1411.32,923.81 C1403.57,931.01 1395.82,937.99 1388.06,945.08 C1380.31,952.17 1368.68,962.8 1364.8,966.34 Z" fill="rgba(150,150,150,0.38)"/>
<path d="M1364.8,963.6 C1368.68,960.17 1380.31,950.11 1388.06,943.02 C1395.82,935.93 1403.57,928.27 1411.32,921.07 C1419.08,913.87 1426.83,906.78 1434.59,899.8 C1442.34,892.83 1450.09,884.94 1457.85,879.22 C1465.6,873.51 1473.36,868.82 1481.11,865.5 C1488.86,862.19 1496.62,859.79 1504.37,859.33 C1512.13,858.87 1519.88,860.59 1527.63,862.76 C1535.39,864.93 1539.26,866.53 1550.9,872.36 C1562.53,878.19 1581.91,889.63 1597.42,897.74 C1612.93,905.86 1628.44,914.44 1643.94,921.07 C1659.45,927.7 1674.96,932.84 1690.47,937.53 C1705.98,942.22 1729.24,947.25 1736.99,949.19" fill="none" stroke="#e6e6f8" stroke-width="2.2"/>
<path d="M1364.8,963.6 C1368.68,959.83 1380.31,948.51 1388.06,940.96 C1395.82,933.42 1403.57,925.87 1411.32,918.32 C1419.08,910.78 1426.83,903.12 1434.59,895.69 C1442.34,888.25 1450.09,880.59 1457.85,873.73 C1465.6,866.87 1473.36,860.13 1481.11,854.53 C1488.86,848.92 1492.74,845.72 1504.37,840.12 C1516,834.52 1535.39,826.97 1550.9,820.91 C1566.4,814.85 1581.91,808.56 1597.42,803.76 C1612.93,798.96 1628.44,794.84 1643.94,792.1 C1659.45,789.36 1674.96,787.98 1690.47,787.3 C1705.98,786.61 1729.24,787.87 1736.99,787.98" fill="none" stroke="#b0cce4" stroke-width="2.2"/>
<path d="M1364.8,963.6 C1368.68,959.94 1380.31,948.97 1388.06,941.65 C1395.82,934.33 1403.57,927.01 1411.32,919.7 C1419.08,912.38 1426.83,905.06 1434.59,897.74 C1442.34,890.43 1450.09,882.54 1457.85,875.79 C1465.6,869.05 1473.36,862.64 1481.11,857.27 C1488.86,851.9 1492.74,849.04 1504.37,843.55 C1516,838.06 1535.39,830.63 1550.9,824.34 C1566.4,818.05 1581.91,811.88 1597.42,805.82 C1612.93,799.76 1628.44,793.59 1643.94,787.98 C1659.45,782.38 1674.96,777.47 1690.47,772.21 C1705.98,766.95 1729.24,759.06 1736.99,756.43" fill="none" stroke="#5aa8dc" stroke-width="2.2"/>
<path d="M1364.8,963.6 C1368.68,960.06 1380.31,949.42 1388.06,942.33 C1395.82,935.25 1403.57,928.27 1411.32,921.07 C1419.08,913.87 1426.83,906.2 1434.59,899.12 C1442.34,892.03 1450.09,884.94 1457.85,878.54 C1465.6,872.13 1473.36,865.85 1481.11,860.7 C1488.86,855.56 1492.74,853.15 1504.37,847.67 C1516,842.18 1535.39,834.4 1550.9,827.77 C1566.4,821.14 1581.91,815.2 1597.42,807.88 C1612.93,800.56 1628.44,793.36 1643.94,783.87 C1659.45,774.38 1674.96,763.06 1690.47,750.94 C1705.98,738.82 1729.24,717.78 1736.99,711.15" fill="none" stroke="#1a6ab8" stroke-width="2.4"/>
</g>
<line x1="1364.8" y1="695.7" x2="1364.8" y2="1033.2" stroke="#000" stroke-width="2.2"/>
<line x1="1363.8" y1="1032.2" x2="1736.9" y2="1032.2" stroke="#000" stroke-width="2.2"/>
<line x1="1364.8" y1="1032.2" x2="1364.8" y2="1040.2" stroke="#000" stroke-width="2.2"/>
<text x="1364.8" y="1062" text-anchor="middle">0</text>
<line x1="1457.85" y1="1032.2" x2="1457.85" y2="1040.2" stroke="#000" stroke-width="2.2"/>
<text x="1457.85" y="1062" text-anchor="middle">24</text>
<line x1="1550.9" y1="1032.2" x2="1550.9" y2="1040.2" stroke="#000" stroke-width="2.2"/>
<text x="1550.9" y="1062" text-anchor="middle">48</text>
<line x1="1643.94" y1="1032.2" x2="1643.94" y2="1040.2" stroke="#000" stroke-width="2.2"/>
<text x="1643.94" y="1062" text-anchor="middle">72</text>
<text x="1555" y="680.5" text-anchor="middle" font-size="24.5">Ctrl</text>
<clipPath id="hcl1"><rect x="1746.9" y="640" width="372.9" height="392"/></clipPath>
<g clip-path="url(#hcl1)">
<path d="M1746.9,941.65 C1750.78,939.59 1762.41,933.64 1770.16,929.3 C1777.92,924.96 1785.67,919.81 1793.42,915.58 C1801.18,911.35 1808.93,906.89 1816.69,903.92 C1824.44,900.95 1830.9,898.77 1839.95,897.74 C1848.99,896.72 1860.63,896.14 1870.96,897.74 C1881.3,899.34 1891.64,903.69 1901.98,907.35 C1912.32,911.01 1920.07,914.89 1933,919.7 C1945.92,924.5 1964.01,931.02 1979.52,936.16 C1995.03,941.31 2010.54,946.91 2026.04,950.57 C2041.55,954.22 2057.06,956.74 2072.57,958.11 C2088.08,959.48 2111.34,958.68 2119.09,958.8 L2119.09,1002.7 C2111.34,1001.22 2088.08,996.99 2072.57,993.78 C2057.06,990.58 2041.55,988.07 2026.04,983.49 C2010.54,978.92 1995.03,971.95 1979.52,966.34 C1964.01,960.74 1945.92,954.68 1933,949.88 C1920.07,945.08 1912.32,941.19 1901.98,937.53 C1891.64,933.87 1881.3,929.53 1870.96,927.93 C1860.63,926.33 1848.99,926.9 1839.95,927.93 C1830.9,928.96 1824.44,931.13 1816.69,934.1 C1808.93,937.07 1801.18,940.85 1793.42,945.76 C1785.67,950.68 1777.92,956.97 1770.16,963.6 C1762.41,970.23 1750.78,981.89 1746.9,985.55 Z" fill="rgba(150,150,150,0.38)"/>
<path d="M1746.9,943.02 C1750.78,940.96 1762.41,935.25 1770.16,930.67 C1777.92,926.1 1785.67,920.04 1793.42,915.58 C1801.18,911.12 1808.93,907.01 1816.69,903.92 C1824.44,900.83 1830.9,898.43 1839.95,897.06 C1848.99,895.69 1860.63,894.89 1870.96,895.69 C1881.3,896.49 1891.64,899.46 1901.98,901.86 C1912.32,904.26 1920.07,907.23 1933,910.09 C1945.92,912.95 1964.01,916.38 1979.52,919.01 C1995.03,921.64 2010.54,924.04 2026.04,925.87 C2041.55,927.7 2057.06,929.41 2072.57,929.99 C2088.08,930.56 2111.34,929.41 2119.09,929.3 L2119.09,970.46 C2111.34,969.2 2088.08,965.31 2072.57,962.91 C2057.06,960.51 2041.55,958.8 2026.04,956.05 C2010.54,953.31 1995.03,949.54 1979.52,946.45 C1964.01,943.36 1945.92,940.39 1933,937.53 C1920.07,934.67 1912.32,931.7 1901.98,929.3 C1891.64,926.9 1881.3,923.93 1870.96,923.13 C1860.63,922.33 1848.99,923.13 1839.95,924.5 C1830.9,925.87 1824.44,928.27 1816.69,931.36 C1808.93,934.45 1801.18,938.1 1793.42,943.02 C1785.67,947.94 1777.92,954 1770.16,960.86 C1762.41,967.72 1750.78,980.29 1746.9,984.18 Z" fill="rgba(150,150,150,0.38)"/>
<path d="M1746.9,918.32 C1750.78,916.84 1762.41,913.06 1770.16,909.41 C1777.92,905.75 1785.67,900.37 1793.42,896.37 C1801.18,892.37 1808.93,888.48 1816.69,885.4 C1824.44,882.31 1830.9,879.34 1839.95,877.85 C1848.99,876.36 1860.63,875.68 1870.96,876.48 C1881.3,877.28 1891.64,880.25 1901.98,882.65 C1912.32,885.05 1920.07,887.91 1933,890.88 C1945.92,893.86 1964.01,897.52 1979.52,900.49 C1995.03,903.46 2010.54,906.66 2026.04,908.72 C2041.55,910.78 2057.06,912.84 2072.57,912.84 C2088.08,912.84 2111.34,909.41 2119.09,908.72 L2119.09,1004.76 C2111.34,1002.24 2088.08,994.24 2072.57,989.67 C2057.06,985.09 2041.55,981.44 2026.04,977.32 C2010.54,973.2 1995.03,969.09 1979.52,964.97 C1964.01,960.86 1945.92,956.05 1933,952.62 C1920.07,949.19 1912.32,946.79 1901.98,944.39 C1891.64,941.99 1881.3,939.02 1870.96,938.22 C1860.63,937.42 1848.99,938.1 1839.95,939.59 C1830.9,941.08 1824.44,943.82 1816.69,947.14 C1808.93,950.45 1801.18,953.88 1793.42,959.48 C1785.67,965.09 1777.92,972.52 1770.16,980.75 C1762.41,988.98 1750.78,1004.19 1746.9,1008.88 Z" fill="rgba(150,150,150,0.38)"/>
<path d="M1746.9,938.9 C1750.78,937.19 1762.41,932.27 1770.16,928.61 C1777.92,924.96 1785.67,920.73 1793.42,916.95 C1801.18,913.18 1808.93,909.18 1816.69,905.98 C1824.44,902.77 1830.9,899.69 1839.95,897.74 C1848.99,895.8 1860.63,894.54 1870.96,894.31 C1881.3,894.09 1891.64,895.23 1901.98,896.37 C1912.32,897.52 1920.07,898.89 1933,901.17 C1945.92,903.46 1964.01,907.46 1979.52,910.09 C1995.03,912.72 2010.54,915.47 2026.04,916.95 C2041.55,918.44 2057.06,920.61 2072.57,919.01 C2088.08,917.41 2111.34,909.29 2119.09,907.35 L2119.09,956.74 C2111.34,955.94 2088.08,954 2072.57,951.94 C2057.06,949.88 2041.55,947.25 2026.04,944.39 C2010.54,941.53 1995.03,937.88 1979.52,934.79 C1964.01,931.7 1945.92,928.16 1933,925.87 C1920.07,923.58 1912.32,922.21 1901.98,921.07 C1891.64,919.92 1881.3,918.78 1870.96,919.01 C1860.63,919.24 1848.99,920.5 1839.95,922.44 C1830.9,924.38 1824.44,927.01 1816.69,930.67 C1808.93,934.33 1801.18,938.79 1793.42,944.39 C1785.67,949.99 1777.92,956.97 1770.16,964.29 C1762.41,971.6 1750.78,984.29 1746.9,988.3 Z" fill="rgba(150,150,150,0.38)"/>
<path d="M1746.9,963.6 C1750.78,960.74 1762.41,951.94 1770.16,946.45 C1777.92,940.96 1785.67,935.25 1793.42,930.67 C1801.18,926.1 1808.93,921.98 1816.69,919.01 C1824.44,916.04 1830.9,913.87 1839.95,912.84 C1848.99,911.81 1860.63,911.24 1870.96,912.84 C1881.3,914.44 1891.64,918.78 1901.98,922.44 C1912.32,926.1 1920.07,929.99 1933,934.79 C1945.92,939.59 1964.01,945.88 1979.52,951.25 C1995.03,956.63 2010.54,962.91 2026.04,967.03 C2041.55,971.15 2057.06,973.66 2072.57,975.95 C2088.08,978.23 2111.34,979.95 2119.09,980.75" fill="none" stroke="#e6e6f8" stroke-width="2.2"/>
<path d="M1746.9,963.6 C1750.78,960.63 1762.41,951.48 1770.16,945.76 C1777.92,940.05 1785.67,933.99 1793.42,929.3 C1801.18,924.61 1808.93,920.73 1816.69,917.64 C1824.44,914.55 1830.9,912.15 1839.95,910.78 C1848.99,909.41 1860.63,908.61 1870.96,909.41 C1881.3,910.21 1891.64,913.18 1901.98,915.58 C1912.32,917.98 1920.07,920.95 1933,923.81 C1945.92,926.67 1964.01,929.87 1979.52,932.73 C1995.03,935.59 2010.54,938.68 2026.04,940.96 C2041.55,943.25 2057.06,944.96 2072.57,946.45 C2088.08,947.94 2111.34,949.31 2119.09,949.88" fill="none" stroke="#b0cce4" stroke-width="2.2"/>
<path d="M1746.9,963.6 C1750.78,960.51 1762.41,951.02 1770.16,945.08 C1777.92,939.13 1785.67,932.73 1793.42,927.93 C1801.18,923.13 1808.93,919.47 1816.69,916.27 C1824.44,913.06 1830.9,910.21 1839.95,908.72 C1848.99,907.23 1860.63,906.55 1870.96,907.35 C1881.3,908.15 1891.64,911.12 1901.98,913.52 C1912.32,915.92 1920.07,918.55 1933,921.75 C1945.92,924.96 1964.01,929.19 1979.52,932.73 C1995.03,936.27 2010.54,939.93 2026.04,943.02 C2041.55,946.11 2057.06,948.97 2072.57,951.25 C2088.08,953.54 2111.34,955.83 2119.09,956.74" fill="none" stroke="#5aa8dc" stroke-width="2.2"/>
<path d="M1746.9,963.6 C1750.78,960.74 1762.41,951.94 1770.16,946.45 C1777.92,940.96 1785.67,935.36 1793.42,930.67 C1801.18,925.98 1808.93,921.75 1816.69,918.32 C1824.44,914.89 1830.9,912.04 1839.95,910.09 C1848.99,908.15 1860.63,906.89 1870.96,906.66 C1881.3,906.43 1891.64,907.58 1901.98,908.72 C1912.32,909.86 1920.07,911.24 1933,913.52 C1945.92,915.81 1964.01,919.58 1979.52,922.44 C1995.03,925.3 2010.54,928.5 2026.04,930.67 C2041.55,932.84 2057.06,935.25 2072.57,935.47 C2088.08,935.7 2111.34,932.62 2119.09,932.04" fill="none" stroke="#1a6ab8" stroke-width="2.4"/>
</g>
<line x1="1746.9" y1="695.7" x2="1746.9" y2="1033.2" stroke="#000" stroke-width="2.2"/>
<line x1="1745.9" y1="1032.2" x2="2119.8" y2="1032.2" stroke="#000" stroke-width="2.2"/>
<line x1="1746.9" y1="1032.2" x2="1746.9" y2="1040.2" stroke="#000" stroke-width="2.2"/>
<text x="1746.9" y="1062" text-anchor="middle">0</text>
<line x1="1839.95" y1="1032.2" x2="1839.95" y2="1040.2" stroke="#000" stroke-width="2.2"/>
<text x="1839.95" y="1062" text-anchor="middle">24</text>
<line x1="1933" y1="1032.2" x2="1933" y2="1040.2" stroke="#000" stroke-width="2.2"/>
<text x="1933" y="1062" text-anchor="middle">48</text>
<line x1="2026.04" y1="1032.2" x2="2026.04" y2="1040.2" stroke="#000" stroke-width="2.2"/>
<text x="2026.04" y="1062" text-anchor="middle">72</text>
<text x="1928.2" y="680.5" text-anchor="middle" font-size="24.5">RASA2 KO</text>
<line x1="1356.8" y1="963.6" x2="1364.8" y2="963.6" stroke="#000" stroke-width="2.2"/>
<text x="1347.2" y="972.9" text-anchor="end">1</text>
<line x1="1356.8" y1="895" x2="1364.8" y2="895" stroke="#000" stroke-width="2.2"/>
<text x="1347.2" y="904.3" text-anchor="end">2</text>
<line x1="1356.8" y1="826.4" x2="1364.8" y2="826.4" stroke="#000" stroke-width="2.2"/>
<text x="1347.2" y="835.7" text-anchor="end">3</text>
<line x1="1356.8" y1="757.8" x2="1364.8" y2="757.8" stroke="#000" stroke-width="2.2"/>
<text x="1347.2" y="767.1" text-anchor="end">4</text>
<text x="0" y="0" text-anchor="middle" transform="translate(1312 874.7) rotate(-90)">Cancer cell growth</text>
<text x="1741" y="1087.6" text-anchor="middle">Time (h)</text>
<text x="1976.4" y="727.2">T<tspan font-size="17" dy="7">reg</tspan><tspan dy="-7">:CD8</tspan><tspan font-size="15" dy="-9">+</tspan></text>
<rect x="1975.2" y="743.5" width="72" height="15" fill="#d0d0d0"/>
<rect x="1975.2" y="748.7" width="72" height="4.6" fill="#e6e6f8"/>
<text x="2054.8" y="759" font-size="24">0:1</text>
<rect x="1975.2" y="767.5" width="72" height="15" fill="#d0d0d0"/>
<rect x="1975.2" y="772.7" width="72" height="4.6" fill="#b0cce4"/>
<text x="2054.8" y="783" font-size="24">1:1</text>
<rect x="1975.2" y="790.9" width="72" height="15" fill="#d0d0d0"/>
<rect x="1975.2" y="796.1" width="72" height="4.6" fill="#5aa8dc"/>
<text x="2054.8" y="806.4" font-size="24">2:1</text>
<rect x="1975.2" y="814" width="72" height="15" fill="#d0d0d0"/>
<rect x="1975.2" y="819.2" width="72" height="4.6" fill="#1a6ab8"/>
<text x="2054.8" y="829.5" font-size="24">4:1</text>
</svg>
</body></html>
